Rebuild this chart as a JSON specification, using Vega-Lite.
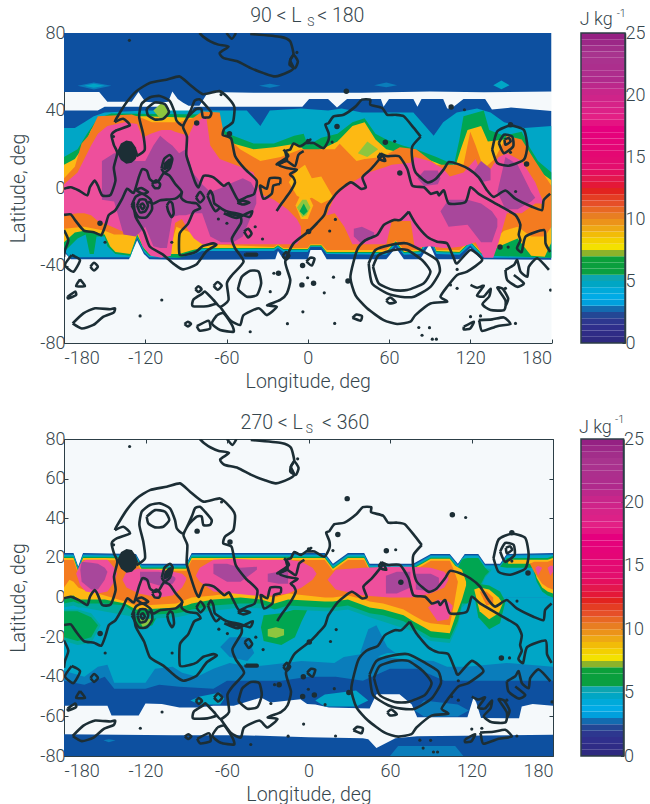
{"$schema":"https://vega.github.io/schema/vega-lite/v6.json","padding":{"left":8,"top":5,"right":0,"bottom":0},"background":"white",
"config":{"font":"Roboto","view":{"stroke":null},"axis":{"grid":false,"labelFontSize":18,"labelFontWeight":300,"labelColor":"#36464d","titleFontSize":19.5,"titleFontWeight":300,"titleColor":"#36464d","domainColor":"#2c3e46","tickColor":"#2c3e46","tickSize":-4,"labelPadding":3,"zindex":1}},
"datasets":{
"f1":[
{"s":"u","v":1,"x":-180,"lo":49.5,"hi":80},{"s":"u","v":1,"x":-154,"lo":49.5,"hi":80},{"s":"u","v":1,"x":-148,"lo":44.5,"hi":80},{"s":"u","v":1,"x":-130,"lo":44.5,"hi":80},{"s":"u","v":1,"x":-125,"lo":49.5,"hi":80},{"s":"u","v":1,"x":-120,"lo":44.5,"hi":80},{"s":"u","v":1,"x":-110,"lo":44,"hi":80},{"s":"u","v":1,"x":-103,"lo":44.5,"hi":80},{"s":"u","v":1,"x":-100,"lo":49.8,"hi":80},{"s":"u","v":1,"x":-96,"lo":46,"hi":80},{"s":"u","v":1,"x":-92,"lo":44,"hi":80},{"s":"u","v":1,"x":-88,"lo":42.5,"hi":80},{"s":"u","v":1,"x":-80,"lo":42.5,"hi":80},{"s":"u","v":1,"x":-75,"lo":48,"hi":80},{"s":"u","v":1,"x":-72,"lo":49.5,"hi":80},{"s":"u","v":1,"x":-40,"lo":49.2,"hi":80},{"s":"u","v":1,"x":0,"lo":49.2,"hi":80},{"s":"u","v":1,"x":40,"lo":49.2,"hi":80},{"s":"u","v":1,"x":90,"lo":49.8,"hi":80},{"s":"u","v":1,"x":130,"lo":49.4,"hi":80},{"s":"u","v":1,"x":180,"lo":49.8,"hi":80},
{"s":"b1","v":2,"x":-170,"lo":52.8,"hi":52.8},{"s":"b1","v":2,"x":-158,"lo":50.8,"hi":54.5},{"s":"b1","v":2,"x":-145,"lo":52.8,"hi":52.8},
{"s":"b2","v":3,"x":-165,"lo":52.8,"hi":52.8},{"s":"b2","v":3,"x":-158,"lo":51.8,"hi":53.8},{"s":"b2","v":3,"x":-150,"lo":52.8,"hi":52.8},
{"s":"b3","v":2,"x":-36,"lo":52.8,"hi":52.8},{"s":"b3","v":2,"x":-28,"lo":51.8,"hi":53.8},{"s":"b3","v":2,"x":-20,"lo":52.8,"hi":52.8},
{"s":"b4","v":2,"x":49,"lo":53,"hi":53},{"s":"b4","v":2,"x":58,"lo":52,"hi":54.5},{"s":"b4","v":2,"x":66,"lo":53,"hi":53},
{"s":"b5","v":3,"x":137,"lo":53,"hi":53},{"s":"b5","v":3,"x":143,"lo":51,"hi":55.5},{"s":"b5","v":3,"x":149,"lo":53,"hi":53},
{"s":"a1","v":1,"x":-180,"lo":0,"hi":40},{"s":"a1","v":1,"x":-155,"lo":0,"hi":40},{"s":"a1","v":1,"x":-150,"lo":0,"hi":42},{"s":"a1","v":1,"x":-105,"lo":0,"hi":42},{"s":"a1","v":1,"x":-100,"lo":0,"hi":37.5},{"s":"a1","v":1,"x":-88,"lo":0,"hi":37.5},{"s":"a1","v":1,"x":-84,"lo":0,"hi":42},{"s":"a1","v":1,"x":-4,"lo":0,"hi":42},{"s":"a1","v":1,"x":1,"lo":0,"hi":46},{"s":"a1","v":1,"x":15,"lo":0,"hi":46},{"s":"a1","v":1,"x":21.6,"lo":0,"hi":41.5},{"s":"a1","v":1,"x":29,"lo":0,"hi":46},{"s":"a1","v":1,"x":54,"lo":0,"hi":46},{"s":"a1","v":1,"x":56,"lo":0,"hi":42},{"s":"a1","v":1,"x":60,"lo":0,"hi":46},{"s":"a1","v":1,"x":78,"lo":0,"hi":46},{"s":"a1","v":1,"x":81,"lo":0,"hi":42},{"s":"a1","v":1,"x":84,"lo":0,"hi":46},{"s":"a1","v":1,"x":100,"lo":0,"hi":46},{"s":"a1","v":1,"x":103,"lo":0,"hi":41},{"s":"a1","v":1,"x":106,"lo":0,"hi":41},{"s":"a1","v":1,"x":115,"lo":0,"hi":46},{"s":"a1","v":1,"x":131,"lo":0,"hi":46},{"s":"a1","v":1,"x":136,"lo":0,"hi":40.5},{"s":"a1","v":1,"x":150,"lo":0,"hi":41.5},{"s":"a1","v":1,"x":180,"lo":0,"hi":39.7},
{"s":"a2","v":1,"x":-180,"lo":-33,"hi":0},{"s":"a2","v":1,"x":-175,"lo":-36.8,"hi":0},{"s":"a2","v":1,"x":-132,"lo":-36.8,"hi":0},{"s":"a2","v":1,"x":-126,"lo":-27,"hi":0},{"s":"a2","v":1,"x":-121,"lo":-34,"hi":0},{"s":"a2","v":1,"x":-117,"lo":-36.8,"hi":0},{"s":"a2","v":1,"x":-97,"lo":-37,"hi":0},{"s":"a2","v":1,"x":-24,"lo":-36.8,"hi":0},{"s":"a2","v":1,"x":-22,"lo":-32.5,"hi":0},{"s":"a2","v":1,"x":-18,"lo":-36.8,"hi":0},{"s":"a2","v":1,"x":0,"lo":-36.8,"hi":0},{"s":"a2","v":1,"x":2,"lo":-32,"hi":0},{"s":"a2","v":1,"x":10,"lo":-32,"hi":0},{"s":"a2","v":1,"x":14,"lo":-36.8,"hi":0},{"s":"a2","v":1,"x":58,"lo":-36.8,"hi":0},{"s":"a2","v":1,"x":65,"lo":-30.8,"hi":0},{"s":"a2","v":1,"x":71,"lo":-36.8,"hi":0},{"s":"a2","v":1,"x":83,"lo":-36.8,"hi":0},{"s":"a2","v":1,"x":90,"lo":-29,"hi":0},{"s":"a2","v":1,"x":95,"lo":-36.8,"hi":0},{"s":"a2","v":1,"x":112,"lo":-36.8,"hi":0},{"s":"a2","v":1,"x":120,"lo":-31,"hi":0},{"s":"a2","v":1,"x":128,"lo":-36.8,"hi":0},{"s":"a2","v":1,"x":180,"lo":-37,"hi":0},
{"s":"c1","v":3,"x":-180,"lo":0,"hi":31},{"s":"c1","v":3,"x":-172,"lo":0,"hi":31},{"s":"c1","v":3,"x":-165,"lo":0,"hi":34},{"s":"c1","v":3,"x":-158,"lo":0,"hi":37},{"s":"c1","v":3,"x":-150,"lo":0,"hi":39},{"s":"c1","v":3,"x":-120,"lo":0,"hi":40},{"s":"c1","v":3,"x":-70,"lo":0,"hi":40},{"s":"c1","v":3,"x":-45,"lo":0,"hi":40},{"s":"c1","v":3,"x":-35,"lo":0,"hi":32},{"s":"c1","v":3,"x":-28,"lo":0,"hi":40},{"s":"c1","v":3,"x":-5,"lo":0,"hi":41},{"s":"c1","v":3,"x":15,"lo":0,"hi":40},{"s":"c1","v":3,"x":25,"lo":0,"hi":41},{"s":"c1","v":3,"x":40,"lo":0,"hi":39},{"s":"c1","v":3,"x":78,"lo":0,"hi":39},{"s":"c1","v":3,"x":83,"lo":0,"hi":35},{"s":"c1","v":3,"x":93,"lo":0,"hi":27},{"s":"c1","v":3,"x":100,"lo":0,"hi":34},{"s":"c1","v":3,"x":110,"lo":0,"hi":39},{"s":"c1","v":3,"x":125,"lo":0,"hi":41},{"s":"c1","v":3,"x":135,"lo":0,"hi":39},{"s":"c1","v":3,"x":145,"lo":0,"hi":34},{"s":"c1","v":3,"x":160,"lo":0,"hi":31},{"s":"c1","v":3,"x":180,"lo":0,"hi":32},
{"s":"c2","v":3,"x":-180,"lo":-32,"hi":0},{"s":"c2","v":3,"x":-176,"lo":-35.7,"hi":0},{"s":"c2","v":3,"x":-131,"lo":-35.7,"hi":0},{"s":"c2","v":3,"x":-126,"lo":-25.5,"hi":0},{"s":"c2","v":3,"x":-121,"lo":-33,"hi":0},{"s":"c2","v":3,"x":-117,"lo":-35.8,"hi":0},{"s":"c2","v":3,"x":-97,"lo":-36,"hi":0},{"s":"c2","v":3,"x":-85,"lo":-34.5,"hi":0},{"s":"c2","v":3,"x":-78,"lo":-32.5,"hi":0},{"s":"c2","v":3,"x":-25,"lo":-32.5,"hi":0},{"s":"c2","v":3,"x":-22,"lo":-31,"hi":0},{"s":"c2","v":3,"x":-18,"lo":-33,"hi":0},{"s":"c2","v":3,"x":0,"lo":-33,"hi":0},{"s":"c2","v":3,"x":2,"lo":-30.5,"hi":0},{"s":"c2","v":3,"x":10,"lo":-30.5,"hi":0},{"s":"c2","v":3,"x":14,"lo":-34,"hi":0},{"s":"c2","v":3,"x":58,"lo":-34.5,"hi":0},{"s":"c2","v":3,"x":65,"lo":-29,"hi":0},{"s":"c2","v":3,"x":71,"lo":-34.5,"hi":0},{"s":"c2","v":3,"x":83,"lo":-34,"hi":0},{"s":"c2","v":3,"x":90,"lo":-27,"hi":0},{"s":"c2","v":3,"x":95,"lo":-34,"hi":0},{"s":"c2","v":3,"x":112,"lo":-34.5,"hi":0},{"s":"c2","v":3,"x":120,"lo":-29.5,"hi":0},{"s":"c2","v":3,"x":128,"lo":-35.3,"hi":0},{"s":"c2","v":3,"x":135,"lo":-36,"hi":0},{"s":"c2","v":3,"x":180,"lo":-36,"hi":0},
{"s":"g1","v":5,"x":-180,"lo":0,"hi":16},{"s":"g1","v":5,"x":-170,"lo":0,"hi":20},{"s":"g1","v":5,"x":-163,"lo":0,"hi":28},{"s":"g1","v":5,"x":-155,"lo":0,"hi":36},{"s":"g1","v":5,"x":-145,"lo":0,"hi":38.5},{"s":"g1","v":5,"x":-75,"lo":0,"hi":38},{"s":"g1","v":5,"x":-68,"lo":0,"hi":32},{"s":"g1","v":5,"x":-55,"lo":0,"hi":27},{"s":"g1","v":5,"x":-40,"lo":0,"hi":23},{"s":"g1","v":5,"x":-25,"lo":0,"hi":23},{"s":"g1","v":5,"x":-10,"lo":0,"hi":27},{"s":"g1","v":5,"x":-3,"lo":0,"hi":28},{"s":"g1","v":5,"x":0,"lo":0,"hi":22},{"s":"g1","v":5,"x":10,"lo":0,"hi":26},{"s":"g1","v":5,"x":22,"lo":0,"hi":28},{"s":"g1","v":5,"x":33,"lo":0,"hi":34},{"s":"g1","v":5,"x":42,"lo":0,"hi":36},{"s":"g1","v":5,"x":50,"lo":0,"hi":28},{"s":"g1","v":5,"x":58,"lo":0,"hi":25},{"s":"g1","v":5,"x":70,"lo":0,"hi":22},{"s":"g1","v":5,"x":80,"lo":0,"hi":20},{"s":"g1","v":5,"x":95,"lo":0,"hi":16},{"s":"g1","v":5,"x":108,"lo":0,"hi":12},{"s":"g1","v":5,"x":112,"lo":0,"hi":25},{"s":"g1","v":5,"x":115,"lo":0,"hi":37},{"s":"g1","v":5,"x":130,"lo":0,"hi":40},{"s":"g1","v":5,"x":134,"lo":0,"hi":30},{"s":"g1","v":5,"x":145,"lo":0,"hi":27},{"s":"g1","v":5,"x":158,"lo":0,"hi":29},{"s":"g1","v":5,"x":163,"lo":0,"hi":22},{"s":"g1","v":5,"x":170,"lo":0,"hi":14},{"s":"g1","v":5,"x":180,"lo":0,"hi":8},
{"s":"g2","v":5,"x":-180,"lo":-33,"hi":0},{"s":"g2","v":5,"x":-170,"lo":-26,"hi":0},{"s":"g2","v":5,"x":-164,"lo":-24,"hi":0},{"s":"g2","v":5,"x":-161,"lo":-34,"hi":0},{"s":"g2","v":5,"x":-158,"lo":-34,"hi":0},{"s":"g2","v":5,"x":-156,"lo":-25,"hi":0},{"s":"g2","v":5,"x":-150,"lo":-25,"hi":0},{"s":"g2","v":5,"x":-148,"lo":-30,"hi":0},{"s":"g2","v":5,"x":-142,"lo":-34,"hi":0},{"s":"g2","v":5,"x":-131,"lo":-35,"hi":0},{"s":"g2","v":5,"x":-126,"lo":-25,"hi":0},{"s":"g2","v":5,"x":-121,"lo":-32,"hi":0},{"s":"g2","v":5,"x":-117,"lo":-35,"hi":0},{"s":"g2","v":5,"x":-95,"lo":-36,"hi":0},{"s":"g2","v":5,"x":-85,"lo":-34,"hi":0},{"s":"g2","v":5,"x":-78,"lo":-31.5,"hi":0},{"s":"g2","v":5,"x":-25,"lo":-31.5,"hi":0},{"s":"g2","v":5,"x":-22,"lo":-30,"hi":0},{"s":"g2","v":5,"x":-18,"lo":-32,"hi":0},{"s":"g2","v":5,"x":0,"lo":-32,"hi":0},{"s":"g2","v":5,"x":2,"lo":-30,"hi":0},{"s":"g2","v":5,"x":10,"lo":-30,"hi":0},{"s":"g2","v":5,"x":14,"lo":-33.5,"hi":0},{"s":"g2","v":5,"x":58,"lo":-33.5,"hi":0},{"s":"g2","v":5,"x":65,"lo":-28,"hi":0},{"s":"g2","v":5,"x":71,"lo":-33.5,"hi":0},{"s":"g2","v":5,"x":83,"lo":-33,"hi":0},{"s":"g2","v":5,"x":90,"lo":-25,"hi":0},{"s":"g2","v":5,"x":95,"lo":-33,"hi":0},{"s":"g2","v":5,"x":112,"lo":-33.5,"hi":0},{"s":"g2","v":5,"x":120,"lo":-28,"hi":0},{"s":"g2","v":5,"x":128,"lo":-34,"hi":0},{"s":"g2","v":5,"x":135,"lo":-35,"hi":0},{"s":"g2","v":5,"x":180,"lo":-36,"hi":0},
{"s":"y1","v":7,"x":-180,"lo":0,"hi":12},{"s":"y1","v":7,"x":-172,"lo":0,"hi":15},{"s":"y1","v":7,"x":-165,"lo":0,"hi":22},{"s":"y1","v":7,"x":-160,"lo":0,"hi":30},{"s":"y1","v":7,"x":-152,"lo":0,"hi":37},{"s":"y1","v":7,"x":-120,"lo":0,"hi":37},{"s":"y1","v":7,"x":-75,"lo":0,"hi":36},{"s":"y1","v":7,"x":-68,"lo":0,"hi":28},{"s":"y1","v":7,"x":-55,"lo":0,"hi":23},{"s":"y1","v":7,"x":-40,"lo":0,"hi":20},{"s":"y1","v":7,"x":-25,"lo":0,"hi":21},{"s":"y1","v":7,"x":-8,"lo":0,"hi":23},{"s":"y1","v":7,"x":0,"lo":0,"hi":18},{"s":"y1","v":7,"x":10,"lo":0,"hi":20},{"s":"y1","v":7,"x":22,"lo":0,"hi":24},{"s":"y1","v":7,"x":33,"lo":0,"hi":32},{"s":"y1","v":7,"x":42,"lo":0,"hi":34},{"s":"y1","v":7,"x":50,"lo":0,"hi":25},{"s":"y1","v":7,"x":58,"lo":0,"hi":20},{"s":"y1","v":7,"x":70,"lo":0,"hi":18},{"s":"y1","v":7,"x":80,"lo":0,"hi":17},{"s":"y1","v":7,"x":95,"lo":0,"hi":13},{"s":"y1","v":7,"x":108,"lo":0,"hi":9},{"s":"y1","v":7,"x":113,"lo":0,"hi":20},{"s":"y1","v":7,"x":118,"lo":0,"hi":30},{"s":"y1","v":7,"x":128,"lo":0,"hi":32},{"s":"y1","v":7,"x":133,"lo":0,"hi":24},{"s":"y1","v":7,"x":145,"lo":0,"hi":25},{"s":"y1","v":7,"x":158,"lo":0,"hi":22},{"s":"y1","v":7,"x":165,"lo":0,"hi":14},{"s":"y1","v":7,"x":172,"lo":0,"hi":8},{"s":"y1","v":7,"x":180,"lo":0,"hi":4},
{"s":"y2","v":7,"x":-180,"lo":-28,"hi":0},{"s":"y2","v":7,"x":-172,"lo":-23,"hi":0},{"s":"y2","v":7,"x":-165,"lo":-22,"hi":0},{"s":"y2","v":7,"x":-150,"lo":-24,"hi":0},{"s":"y2","v":7,"x":-146,"lo":-30,"hi":0},{"s":"y2","v":7,"x":-142,"lo":-33,"hi":0},{"s":"y2","v":7,"x":-131,"lo":-34,"hi":0},{"s":"y2","v":7,"x":-126,"lo":-24,"hi":0},{"s":"y2","v":7,"x":-121,"lo":-31,"hi":0},{"s":"y2","v":7,"x":-117,"lo":-34,"hi":0},{"s":"y2","v":7,"x":-95,"lo":-34,"hi":0},{"s":"y2","v":7,"x":-85,"lo":-32,"hi":0},{"s":"y2","v":7,"x":-78,"lo":-31,"hi":0},{"s":"y2","v":7,"x":-25,"lo":-31,"hi":0},{"s":"y2","v":7,"x":-22,"lo":-29.5,"hi":0},{"s":"y2","v":7,"x":-18,"lo":-31.5,"hi":0},{"s":"y2","v":7,"x":0,"lo":-31.5,"hi":0},{"s":"y2","v":7,"x":2,"lo":-29.5,"hi":0},{"s":"y2","v":7,"x":10,"lo":-29.5,"hi":0},{"s":"y2","v":7,"x":14,"lo":-33,"hi":0},{"s":"y2","v":7,"x":58,"lo":-33,"hi":0},{"s":"y2","v":7,"x":65,"lo":-27.5,"hi":0},{"s":"y2","v":7,"x":71,"lo":-33,"hi":0},{"s":"y2","v":7,"x":83,"lo":-32.5,"hi":0},{"s":"y2","v":7,"x":90,"lo":-24,"hi":0},{"s":"y2","v":7,"x":95,"lo":-32.5,"hi":0},{"s":"y2","v":7,"x":112,"lo":-33,"hi":0},{"s":"y2","v":7,"x":120,"lo":-27.5,"hi":0},{"s":"y2","v":7,"x":128,"lo":-33.5,"hi":0},{"s":"y2","v":7,"x":136,"lo":-32,"hi":0},{"s":"y2","v":7,"x":145,"lo":-29,"hi":0},{"s":"y2","v":7,"x":155,"lo":-26,"hi":0},{"s":"y2","v":7,"x":165,"lo":-35,"hi":0},{"s":"y2","v":7,"x":175,"lo":-35.5,"hi":0},{"s":"y2","v":7,"x":180,"lo":-28,"hi":0},
{"s":"o1","v":8,"x":-180,"lo":0,"hi":5},{"s":"o1","v":8,"x":-172,"lo":0,"hi":11},{"s":"o1","v":8,"x":-167,"lo":0,"hi":23},{"s":"o1","v":8,"x":-162,"lo":0,"hi":27},{"s":"o1","v":8,"x":-155,"lo":0,"hi":37},{"s":"o1","v":8,"x":-130,"lo":0,"hi":38},{"s":"o1","v":8,"x":-122,"lo":0,"hi":36},{"s":"o1","v":8,"x":-115,"lo":0,"hi":34},{"s":"o1","v":8,"x":-95,"lo":0,"hi":34},{"s":"o1","v":8,"x":-85,"lo":0,"hi":36},{"s":"o1","v":8,"x":-78,"lo":0,"hi":39.5},{"s":"o1","v":8,"x":-65,"lo":0,"hi":39},{"s":"o1","v":8,"x":-62,"lo":0,"hi":28},{"s":"o1","v":8,"x":-50,"lo":0,"hi":20},{"s":"o1","v":8,"x":-35,"lo":0,"hi":14},{"s":"o1","v":8,"x":-20,"lo":0,"hi":16},{"s":"o1","v":8,"x":-5,"lo":0,"hi":20},{"s":"o1","v":8,"x":20,"lo":0,"hi":20},{"s":"o1","v":8,"x":25,"lo":0,"hi":24},{"s":"o1","v":8,"x":35,"lo":0,"hi":23},{"s":"o1","v":8,"x":42,"lo":0,"hi":15},{"s":"o1","v":8,"x":55,"lo":0,"hi":16},{"s":"o1","v":8,"x":68,"lo":0,"hi":21},{"s":"o1","v":8,"x":80,"lo":0,"hi":20},{"s":"o1","v":8,"x":95,"lo":0,"hi":12},{"s":"o1","v":8,"x":115,"lo":0,"hi":12},{"s":"o1","v":8,"x":120,"lo":0,"hi":29},{"s":"o1","v":8,"x":124,"lo":0,"hi":22},{"s":"o1","v":8,"x":130,"lo":0,"hi":10},{"s":"o1","v":8,"x":138,"lo":0,"hi":15},{"s":"o1","v":8,"x":147,"lo":0,"hi":27},{"s":"o1","v":8,"x":158,"lo":0,"hi":25},{"s":"o1","v":8,"x":167,"lo":0,"hi":15},{"s":"o1","v":8,"x":180,"lo":0,"hi":1},
{"s":"o2","v":8,"x":-180,"lo":-21,"hi":0},{"s":"o2","v":8,"x":-165,"lo":-20,"hi":0},{"s":"o2","v":8,"x":-150,"lo":-22,"hi":0},{"s":"o2","v":8,"x":-143,"lo":-24,"hi":0},{"s":"o2","v":8,"x":-133,"lo":-24,"hi":0},{"s":"o2","v":8,"x":-126,"lo":-22,"hi":0},{"s":"o2","v":8,"x":-121,"lo":-30,"hi":0},{"s":"o2","v":8,"x":-117,"lo":-33,"hi":0},{"s":"o2","v":8,"x":-103,"lo":-34,"hi":0},{"s":"o2","v":8,"x":-97,"lo":-20,"hi":0},{"s":"o2","v":8,"x":-90,"lo":-22,"hi":0},{"s":"o2","v":8,"x":-82,"lo":-24,"hi":0},{"s":"o2","v":8,"x":-76,"lo":-29,"hi":0},{"s":"o2","v":8,"x":-25,"lo":-30.5,"hi":0},{"s":"o2","v":8,"x":-22,"lo":-29,"hi":0},{"s":"o2","v":8,"x":-18,"lo":-31,"hi":0},{"s":"o2","v":8,"x":0,"lo":-31,"hi":0},{"s":"o2","v":8,"x":2,"lo":-29,"hi":0},{"s":"o2","v":8,"x":10,"lo":-29,"hi":0},{"s":"o2","v":8,"x":14,"lo":-32,"hi":0},{"s":"o2","v":8,"x":58,"lo":-32,"hi":0},{"s":"o2","v":8,"x":65,"lo":-27,"hi":0},{"s":"o2","v":8,"x":71,"lo":-32,"hi":0},{"s":"o2","v":8,"x":83,"lo":-32,"hi":0},{"s":"o2","v":8,"x":90,"lo":-23,"hi":0},{"s":"o2","v":8,"x":95,"lo":-32,"hi":0},{"s":"o2","v":8,"x":112,"lo":-32,"hi":0},{"s":"o2","v":8,"x":120,"lo":-27,"hi":0},{"s":"o2","v":8,"x":128,"lo":-33,"hi":0},{"s":"o2","v":8,"x":135,"lo":-28,"hi":0},{"s":"o2","v":8,"x":145,"lo":-22,"hi":0},{"s":"o2","v":8,"x":155,"lo":-20,"hi":0},{"s":"o2","v":8,"x":165,"lo":-25,"hi":0},{"s":"o2","v":8,"x":175,"lo":-25,"hi":0},{"s":"o2","v":8,"x":180,"lo":-20,"hi":0},
{"s":"ye1","v":7,"x":-14,"lo":3,"hi":3},{"s":"ye1","v":7,"x":-8,"lo":-4,"hi":9},{"s":"ye1","v":7,"x":-2,"lo":-6,"hi":12},{"s":"ye1","v":7,"x":3,"lo":-5,"hi":5},{"s":"ye1","v":7,"x":10,"lo":-8,"hi":6},{"s":"ye1","v":7,"x":19,"lo":-5,"hi":-5},
{"s":"ye2","v":7,"x":-9,"lo":-9,"hi":-9},{"s":"ye2","v":7,"x":-5,"lo":-16,"hi":-3},{"s":"ye2","v":7,"x":0,"lo":-16,"hi":-3},{"s":"ye2","v":7,"x":4,"lo":-9,"hi":-9},
{"s":"lg1","v":6,"x":-8,"lo":-10,"hi":-10},{"s":"lg1","v":6,"x":-4,"lo":-15,"hi":-6},{"s":"lg1","v":6,"x":-1,"lo":-14,"hi":-6},{"s":"lg1","v":6,"x":2,"lo":-10,"hi":-10},
{"s":"gr1","v":5,"x":-6,"lo":-12,"hi":-12},{"s":"gr1","v":5,"x":-3,"lo":-14,"hi":-8},{"s":"gr1","v":5,"x":0,"lo":-12,"hi":-12},
{"s":"ye3","v":7,"x":22,"lo":24,"hi":24},{"s":"ye3","v":7,"x":36,"lo":14,"hi":32},{"s":"ye3","v":7,"x":42,"lo":15,"hi":33},{"s":"ye3","v":7,"x":50,"lo":17,"hi":24},
{"s":"lg2","v":6,"x":37,"lo":18,"hi":18},{"s":"lg2","v":6,"x":44,"lo":16,"hi":24},{"s":"lg2","v":6,"x":52,"lo":20,"hi":20},
{"s":"lg3","v":6,"x":-114,"lo":40,"hi":40},{"s":"lg3","v":6,"x":-108,"lo":35,"hi":44},{"s":"lg3","v":6,"x":-102,"lo":40,"hi":40},
{"s":"p1","v":9,"x":-180,"lo":-14,"hi":2},{"s":"p1","v":9,"x":-170,"lo":-13,"hi":8},{"s":"p1","v":9,"x":-165,"lo":-13,"hi":15},{"s":"p1","v":9,"x":-160,"lo":-14,"hi":22},{"s":"p1","v":9,"x":-155,"lo":-17,"hi":28},{"s":"p1","v":9,"x":-148,"lo":-19,"hi":32},{"s":"p1","v":9,"x":-135,"lo":-23,"hi":34},{"s":"p1","v":9,"x":-126,"lo":-22,"hi":33},{"s":"p1","v":9,"x":-122,"lo":-30,"hi":26},{"s":"p1","v":9,"x":-116,"lo":-35,"hi":28},{"s":"p1","v":9,"x":-108,"lo":-36,"hi":30},{"s":"p1","v":9,"x":-101,"lo":-35,"hi":30},{"s":"p1","v":9,"x":-98,"lo":-18,"hi":29},{"s":"p1","v":9,"x":-93,"lo":-16,"hi":28},{"s":"p1","v":9,"x":-88,"lo":-22,"hi":27},{"s":"p1","v":9,"x":-84,"lo":-26,"hi":33},{"s":"p1","v":9,"x":-78,"lo":-29,"hi":36},{"s":"p1","v":9,"x":-75,"lo":-29,"hi":37},{"s":"p1","v":9,"x":-72,"lo":-29,"hi":22},{"s":"p1","v":9,"x":-65,"lo":-29,"hi":15},{"s":"p1","v":9,"x":-50,"lo":-29,"hi":11},{"s":"p1","v":9,"x":-40,"lo":-29,"hi":8},{"s":"p1","v":9,"x":-35,"lo":-29,"hi":-3},{"s":"p1","v":9,"x":-25,"lo":-29,"hi":-6},{"s":"p1","v":9,"x":-15,"lo":-29,"hi":-11},{"s":"p1","v":9,"x":-8,"lo":-29,"hi":-16},{"s":"p1","v":9,"x":-5,"lo":-26,"hi":-20},
{"s":"p2","v":9,"x":14,"lo":-14,"hi":-14},{"s":"p2","v":9,"x":20,"lo":-13,"hi":-4},{"s":"p2","v":9,"x":27,"lo":-20,"hi":0},{"s":"p2","v":9,"x":33,"lo":-29,"hi":3},{"s":"p2","v":9,"x":45,"lo":-29,"hi":8},{"s":"p2","v":9,"x":58,"lo":-29,"hi":11},{"s":"p2","v":9,"x":62,"lo":-17,"hi":12},{"s":"p2","v":9,"x":76,"lo":-17,"hi":13},{"s":"p2","v":9,"x":79,"lo":-31,"hi":16},{"s":"p2","v":9,"x":90,"lo":-30,"hi":14},{"s":"p2","v":9,"x":100,"lo":-31,"hi":10},{"s":"p2","v":9,"x":105,"lo":-31,"hi":6},{"s":"p2","v":9,"x":115,"lo":-30,"hi":8},{"s":"p2","v":9,"x":124,"lo":-28,"hi":15},{"s":"p2","v":9,"x":130,"lo":-36,"hi":4},{"s":"p2","v":9,"x":137,"lo":-36,"hi":12},{"s":"p2","v":9,"x":141,"lo":-28,"hi":16},{"s":"p2","v":9,"x":147,"lo":-13,"hi":18},{"s":"p2","v":9,"x":158,"lo":-13,"hi":14},{"s":"p2","v":9,"x":168,"lo":-8,"hi":3},{"s":"p2","v":9,"x":172,"lo":-8,"hi":-4},{"s":"p2","v":9,"x":175,"lo":-9,"hi":-9},
{"s":"q1","v":10,"x":-152,"lo":-6,"hi":14},{"s":"q1","v":10,"x":-143,"lo":-7,"hi":18},{"s":"q1","v":10,"x":-136,"lo":-24,"hi":18},{"s":"q1","v":10,"x":-127,"lo":-25,"hi":14},{"s":"q1","v":10,"x":-120,"lo":-20,"hi":14},{"s":"q1","v":10,"x":-114,"lo":-30,"hi":22},{"s":"q1","v":10,"x":-109,"lo":-31,"hi":27},{"s":"q1","v":10,"x":-104,"lo":-31,"hi":24},{"s":"q1","v":10,"x":-100,"lo":-15,"hi":22},{"s":"q1","v":10,"x":-95,"lo":-14,"hi":18},{"s":"q1","v":10,"x":-90,"lo":-14,"hi":20},{"s":"q1","v":10,"x":-85,"lo":-13,"hi":8},{"s":"q1","v":10,"x":-78,"lo":-13,"hi":2},{"s":"q1","v":10,"x":-72,"lo":-25,"hi":-2},{"s":"q1","v":10,"x":-64,"lo":-28,"hi":0},{"s":"q1","v":10,"x":-55,"lo":-28,"hi":3},{"s":"q1","v":10,"x":-48,"lo":-25,"hi":5},{"s":"q1","v":10,"x":-42,"lo":-15,"hi":3},{"s":"q1","v":10,"x":-38,"lo":-8,"hi":-2},
{"s":"q2","v":10,"x":34,"lo":-25,"hi":-21},{"s":"q2","v":10,"x":40,"lo":-29,"hi":-20},{"s":"q2","v":10,"x":49,"lo":-25,"hi":-23},
{"s":"q3","v":10,"x":81,"lo":5,"hi":5},{"s":"q3","v":10,"x":86,"lo":1,"hi":9},{"s":"q3","v":10,"x":96,"lo":2,"hi":9},{"s":"q3","v":10,"x":98,"lo":5,"hi":5},
{"s":"q4","v":10,"x":98,"lo":-12,"hi":-12},{"s":"q4","v":10,"x":104,"lo":-20,"hi":-6},{"s":"q4","v":10,"x":118,"lo":-19,"hi":-6},{"s":"q4","v":10,"x":128,"lo":-28,"hi":-8},{"s":"q4","v":10,"x":136,"lo":-28,"hi":-12},{"s":"q4","v":10,"x":140,"lo":-20,"hi":-16},
{"s":"q5","v":10,"x":123,"lo":9,"hi":9},{"s":"q5","v":10,"x":128,"lo":3,"hi":14},{"s":"q5","v":10,"x":135,"lo":4,"hi":10},
{"s":"q6","v":10,"x":140,"lo":-2,"hi":-2},{"s":"q6","v":10,"x":146,"lo":-11,"hi":16},{"s":"q6","v":10,"x":155,"lo":-11,"hi":12},{"s":"q6","v":10,"x":165,"lo":-7,"hi":-2},{"s":"q6","v":10,"x":168,"lo":-5,"hi":-5}
],
"f2":[
{"s":"u","v":1,"x":-180,"lo":-80,"hi":-69},{"s":"u","v":1,"x":-100,"lo":-80,"hi":-69.5},{"s":"u","v":1,"x":-50,"lo":-80,"hi":-69.5},{"s":"u","v":1,"x":0,"lo":-80,"hi":-70.5},{"s":"u","v":1,"x":40,"lo":-80,"hi":-71},{"s":"u","v":1,"x":44,"lo":-80,"hi":-71.5},{"s":"u","v":1,"x":50,"lo":-80,"hi":-76},{"s":"u","v":1,"x":64,"lo":-80,"hi":-71},{"s":"u","v":1,"x":80,"lo":-80,"hi":-70},{"s":"u","v":1,"x":180,"lo":-80,"hi":-69.3},
{"s":"ub","v":2,"x":60,"lo":-80,"hi":-80},{"s":"ub","v":2,"x":66,"lo":-80,"hi":-75},{"s":"ub","v":2,"x":108,"lo":-80,"hi":-75},{"s":"ub","v":2,"x":114,"lo":-80,"hi":-80},
{"s":"ub2","v":2,"x":-151,"lo":-72,"hi":-72},{"s":"ub2","v":2,"x":-147,"lo":-73,"hi":-71.5},{"s":"ub2","v":2,"x":-142,"lo":-72,"hi":-72},
{"s":"a1","v":1,"x":-180,"lo":0,"hi":22.4},{"s":"a1","v":1,"x":-173,"lo":0,"hi":22.4},{"s":"a1","v":1,"x":-169.5,"lo":0,"hi":15.6},{"s":"a1","v":1,"x":-166,"lo":0,"hi":22.4},{"s":"a1","v":1,"x":-127,"lo":0,"hi":22},{"s":"a1","v":1,"x":-123,"lo":0,"hi":17},{"s":"a1","v":1,"x":-90,"lo":0,"hi":17},{"s":"a1","v":1,"x":-86,"lo":0,"hi":22.4},{"s":"a1","v":1,"x":12,"lo":0,"hi":22.4},{"s":"a1","v":1,"x":18,"lo":0,"hi":17},{"s":"a1","v":1,"x":29,"lo":0,"hi":22.4},{"s":"a1","v":1,"x":41,"lo":0,"hi":22.4},{"s":"a1","v":1,"x":45,"lo":0,"hi":17},{"s":"a1","v":1,"x":77,"lo":0,"hi":17},{"s":"a1","v":1,"x":90,"lo":0,"hi":22},{"s":"a1","v":1,"x":104,"lo":0,"hi":22},{"s":"a1","v":1,"x":110,"lo":0,"hi":17},{"s":"a1","v":1,"x":115,"lo":0,"hi":22},{"s":"a1","v":1,"x":125,"lo":0,"hi":22},{"s":"a1","v":1,"x":130,"lo":0,"hi":17},{"s":"a1","v":1,"x":141,"lo":0,"hi":17},{"s":"a1","v":1,"x":146,"lo":0,"hi":22},{"s":"a1","v":1,"x":180,"lo":0,"hi":22.4},
{"s":"a2","v":1,"x":-180,"lo":-54.7,"hi":0},{"s":"a2","v":1,"x":-148,"lo":-54.7,"hi":0},{"s":"a2","v":1,"x":-145,"lo":-59.5,"hi":0},{"s":"a2","v":1,"x":-125,"lo":-59.5,"hi":0},{"s":"a2","v":1,"x":-120,"lo":-53.5,"hi":0},{"s":"a2","v":1,"x":-108,"lo":-53.8,"hi":0},{"s":"a2","v":1,"x":-95,"lo":-55.5,"hi":0},{"s":"a2","v":1,"x":-82,"lo":-55.5,"hi":0},{"s":"a2","v":1,"x":-70,"lo":-54.7,"hi":0},{"s":"a2","v":1,"x":-55,"lo":-54.7,"hi":0},{"s":"a2","v":1,"x":-35,"lo":-50.5,"hi":0},{"s":"a2","v":1,"x":-28,"lo":-53,"hi":0},{"s":"a2","v":1,"x":-6,"lo":-51.3,"hi":0},{"s":"a2","v":1,"x":-1,"lo":-53.8,"hi":0},{"s":"a2","v":1,"x":5,"lo":-54,"hi":0},{"s":"a2","v":1,"x":15,"lo":-55.5,"hi":0},{"s":"a2","v":1,"x":45,"lo":-56,"hi":0},{"s":"a2","v":1,"x":50,"lo":-48.8,"hi":0},{"s":"a2","v":1,"x":67,"lo":-48.8,"hi":0},{"s":"a2","v":1,"x":76,"lo":-54,"hi":0},{"s":"a2","v":1,"x":80,"lo":-60.5,"hi":0},{"s":"a2","v":1,"x":117,"lo":-60.5,"hi":0},{"s":"a2","v":1,"x":121.5,"lo":-50.5,"hi":0},{"s":"a2","v":1,"x":123.5,"lo":-53,"hi":0},{"s":"a2","v":1,"x":127,"lo":-60.8,"hi":0},{"s":"a2","v":1,"x":155,"lo":-61,"hi":0},{"s":"a2","v":1,"x":157,"lo":-55,"hi":0},{"s":"a2","v":1,"x":165,"lo":-53.8,"hi":0},{"s":"a2","v":1,"x":180,"lo":-54.7,"hi":0},
{"s":"pb1","v":3,"x":-87,"lo":-52,"hi":-52},{"s":"pb1","v":3,"x":-80,"lo":-54,"hi":-50},{"s":"pb1","v":3,"x":-65,"lo":-54,"hi":-48},{"s":"pb1","v":3,"x":-62,"lo":-51,"hi":-51},
{"s":"pb2","v":3,"x":5,"lo":-52,"hi":-52},{"s":"pb2","v":3,"x":12,"lo":-55,"hi":-49},{"s":"pb2","v":3,"x":35,"lo":-55,"hi":-47},{"s":"pb2","v":3,"x":44,"lo":-52,"hi":-52},
{"s":"pb3","v":2,"x":78,"lo":-57,"hi":-57},{"s":"pb3","v":2,"x":85,"lo":-60,"hi":-52},{"s":"pb3","v":2,"x":110,"lo":-60,"hi":-54},{"s":"pb3","v":2,"x":118,"lo":-57,"hi":-57},
{"s":"m2","v":2,"x":-180,"lo":-42,"hi":0},{"s":"m2","v":2,"x":-165,"lo":-44,"hi":0},{"s":"m2","v":2,"x":-150,"lo":-40,"hi":0},{"s":"m2","v":2,"x":-143,"lo":-46,"hi":0},{"s":"m2","v":2,"x":-120,"lo":-46,"hi":0},{"s":"m2","v":2,"x":-110,"lo":-44,"hi":0},{"s":"m2","v":2,"x":-95,"lo":-45,"hi":0},{"s":"m2","v":2,"x":-70,"lo":-46,"hi":0},{"s":"m2","v":2,"x":-60,"lo":-42,"hi":0},{"s":"m2","v":2,"x":-20,"lo":-42,"hi":0},{"s":"m2","v":2,"x":0,"lo":-40,"hi":0},{"s":"m2","v":2,"x":20,"lo":-40,"hi":0},{"s":"m2","v":2,"x":40,"lo":-42,"hi":0},{"s":"m2","v":2,"x":60,"lo":-36,"hi":0},{"s":"m2","v":2,"x":80,"lo":-36,"hi":0},{"s":"m2","v":2,"x":100,"lo":-42,"hi":0},{"s":"m2","v":2,"x":180,"lo":-42,"hi":0},
{"s":"m1","v":2,"x":-180,"lo":0,"hi":21.8},{"s":"m1","v":2,"x":-173,"lo":0,"hi":21.8},{"s":"m1","v":2,"x":-169.5,"lo":0,"hi":15},{"s":"m1","v":2,"x":-166,"lo":0,"hi":21.8},{"s":"m1","v":2,"x":-127,"lo":0,"hi":21.4},{"s":"m1","v":2,"x":-123,"lo":0,"hi":16.4},{"s":"m1","v":2,"x":-90,"lo":0,"hi":16.4},{"s":"m1","v":2,"x":-86,"lo":0,"hi":21.8},{"s":"m1","v":2,"x":12,"lo":0,"hi":21.8},{"s":"m1","v":2,"x":18,"lo":0,"hi":16.4},{"s":"m1","v":2,"x":29,"lo":0,"hi":21.8},{"s":"m1","v":2,"x":41,"lo":0,"hi":21.8},{"s":"m1","v":2,"x":45,"lo":0,"hi":16.4},{"s":"m1","v":2,"x":77,"lo":0,"hi":16.4},{"s":"m1","v":2,"x":90,"lo":0,"hi":21.4},{"s":"m1","v":2,"x":104,"lo":0,"hi":21.4},{"s":"m1","v":2,"x":110,"lo":0,"hi":16.4},{"s":"m1","v":2,"x":115,"lo":0,"hi":21.4},{"s":"m1","v":2,"x":125,"lo":0,"hi":21.4},{"s":"m1","v":2,"x":130,"lo":0,"hi":16.4},{"s":"m1","v":2,"x":141,"lo":0,"hi":16.4},{"s":"m1","v":2,"x":146,"lo":0,"hi":21.4},{"s":"m1","v":2,"x":180,"lo":0,"hi":21.8},
{"s":"c2","v":3,"x":-180,"lo":-37,"hi":0},{"s":"c2","v":3,"x":-165,"lo":-40,"hi":0},{"s":"c2","v":3,"x":-155,"lo":-35,"hi":0},{"s":"c2","v":3,"x":-148,"lo":-34,"hi":0},{"s":"c2","v":3,"x":-143,"lo":-43,"hi":0},{"s":"c2","v":3,"x":-120,"lo":-43,"hi":0},{"s":"c2","v":3,"x":-113,"lo":-36,"hi":0},{"s":"c2","v":3,"x":-100,"lo":-35,"hi":0},{"s":"c2","v":3,"x":-93,"lo":-38,"hi":0},{"s":"c2","v":3,"x":-82,"lo":-40,"hi":0},{"s":"c2","v":3,"x":-70,"lo":-36,"hi":0},{"s":"c2","v":3,"x":-58,"lo":-33,"hi":0},{"s":"c2","v":3,"x":-43,"lo":-35,"hi":0},{"s":"c2","v":3,"x":-28,"lo":-34,"hi":0},{"s":"c2","v":3,"x":-5,"lo":-32,"hi":0},{"s":"c2","v":3,"x":19,"lo":-33,"hi":0},{"s":"c2","v":3,"x":26,"lo":-30,"hi":0},{"s":"c2","v":3,"x":44,"lo":-28,"hi":0},{"s":"c2","v":3,"x":53,"lo":-30,"hi":0},{"s":"c2","v":3,"x":70,"lo":-31,"hi":0},{"s":"c2","v":3,"x":92,"lo":-32,"hi":0},{"s":"c2","v":3,"x":102,"lo":-35,"hi":0},{"s":"c2","v":3,"x":116,"lo":-35,"hi":0},{"s":"c2","v":3,"x":146,"lo":-33,"hi":0},{"s":"c2","v":3,"x":180,"lo":-35,"hi":0},
{"s":"c1","v":3,"x":-180,"lo":0,"hi":21.4},{"s":"c1","v":3,"x":-173,"lo":0,"hi":21.4},{"s":"c1","v":3,"x":-169.5,"lo":0,"hi":14.6},{"s":"c1","v":3,"x":-166,"lo":0,"hi":21.4},{"s":"c1","v":3,"x":-127,"lo":0,"hi":21},{"s":"c1","v":3,"x":-123,"lo":0,"hi":16},{"s":"c1","v":3,"x":-90,"lo":0,"hi":16},{"s":"c1","v":3,"x":-86,"lo":0,"hi":21.4},{"s":"c1","v":3,"x":12,"lo":0,"hi":21.4},{"s":"c1","v":3,"x":18,"lo":0,"hi":16},{"s":"c1","v":3,"x":29,"lo":0,"hi":21.4},{"s":"c1","v":3,"x":41,"lo":0,"hi":21.4},{"s":"c1","v":3,"x":45,"lo":0,"hi":16},{"s":"c1","v":3,"x":77,"lo":0,"hi":16},{"s":"c1","v":3,"x":90,"lo":0,"hi":21},{"s":"c1","v":3,"x":104,"lo":0,"hi":21},{"s":"c1","v":3,"x":110,"lo":0,"hi":16},{"s":"c1","v":3,"x":115,"lo":0,"hi":21},{"s":"c1","v":3,"x":125,"lo":0,"hi":21},{"s":"c1","v":3,"x":130,"lo":0,"hi":16},{"s":"c1","v":3,"x":141,"lo":0,"hi":16},{"s":"c1","v":3,"x":146,"lo":0,"hi":21},{"s":"c1","v":3,"x":180,"lo":0,"hi":21.4},
{"s":"dm1","v":2,"x":-65,"lo":-25,"hi":-25},{"s":"dm1","v":2,"x":-58,"lo":-30,"hi":-20},{"s":"dm1","v":2,"x":-45,"lo":-32,"hi":-20},{"s":"dm1","v":2,"x":-40,"lo":-28,"hi":-28},
{"s":"dm2","v":2,"x":38,"lo":-28,"hi":-28},{"s":"dm2","v":2,"x":44,"lo":-30,"hi":-16},{"s":"dm2","v":2,"x":50,"lo":-30,"hi":-14},{"s":"dm2","v":2,"x":58,"lo":-28,"hi":-25},{"s":"dm2","v":2,"x":64,"lo":-28,"hi":-28},
{"s":"t1","v":4,"x":-180,"lo":-22,"hi":-6},{"s":"t1","v":4,"x":-170,"lo":-24,"hi":-6},{"s":"t1","v":4,"x":-160,"lo":-23,"hi":-8},{"s":"t1","v":4,"x":-153,"lo":-14,"hi":-14},
{"s":"g1","v":5,"x":-180,"lo":-20,"hi":-7},{"s":"g1","v":5,"x":-170,"lo":-22,"hi":-7},{"s":"g1","v":5,"x":-160,"lo":-20,"hi":-10},{"s":"g1","v":5,"x":-155,"lo":-14,"hi":-14},
{"s":"g3","v":5,"x":-35,"lo":-15,"hi":-15},{"s":"g3","v":5,"x":-33,"lo":-22,"hi":-9},{"s":"g3","v":5,"x":-20,"lo":-24,"hi":-8},{"s":"g3","v":5,"x":-10,"lo":-20,"hi":-6},{"s":"g3","v":5,"x":-5,"lo":-12,"hi":-6},{"s":"g3","v":5,"x":0,"lo":-5,"hi":-5},
{"s":"lg3","v":6,"x":-30,"lo":-19.5,"hi":-16},{"s":"lg3","v":6,"x":-24,"lo":-20.5,"hi":-15},{"s":"lg3","v":6,"x":-18,"lo":-19,"hi":-16},
{"s":"g4","v":5,"x":-130,"lo":-8,"hi":-8},{"s":"g4","v":5,"x":-124,"lo":-16,"hi":-5},{"s":"g4","v":5,"x":-115,"lo":-14,"hi":-5},{"s":"g4","v":5,"x":-110,"lo":-8,"hi":-8},
{"s":"lg4","v":6,"x":-127,"lo":-8,"hi":-8},{"s":"lg4","v":6,"x":-122,"lo":-15,"hi":-6},{"s":"lg4","v":6,"x":-117,"lo":-13,"hi":-7},{"s":"lg4","v":6,"x":-114,"lo":-8,"hi":-8},
{"s":"g5","v":4,"x":-180,"lo":-5,"hi":20.9},{"s":"g5","v":4,"x":-173,"lo":-4,"hi":20.9},{"s":"g5","v":4,"x":-169.5,"lo":-5,"hi":14},{"s":"g5","v":4,"x":-166,"lo":-5,"hi":20.9},{"s":"g5","v":4,"x":-127,"lo":-10,"hi":20.4},{"s":"g5","v":4,"x":-123,"lo":-11,"hi":15.5},{"s":"g5","v":4,"x":-97,"lo":-10,"hi":15.5},{"s":"g5","v":4,"x":-90,"lo":-9,"hi":15.5},{"s":"g5","v":4,"x":-86,"lo":-8,"hi":20.9},{"s":"g5","v":4,"x":-50,"lo":-5,"hi":20.9},{"s":"g5","v":4,"x":12,"lo":-7,"hi":20.9},{"s":"g5","v":4,"x":18,"lo":-7,"hi":15.5},{"s":"g5","v":4,"x":29,"lo":-6,"hi":20.9},{"s":"g5","v":4,"x":41,"lo":-9,"hi":20.9},{"s":"g5","v":4,"x":45,"lo":-10,"hi":15.5},{"s":"g5","v":4,"x":77,"lo":-17,"hi":15.5},{"s":"g5","v":4,"x":90,"lo":-22,"hi":20.5},{"s":"g5","v":4,"x":104,"lo":-23,"hi":20.5},{"s":"g5","v":4,"x":110,"lo":-14,"hi":15.5},{"s":"g5","v":4,"x":113,"lo":-5,"hi":20},{"s":"g5","v":4,"x":125,"lo":2,"hi":20},{"s":"g5","v":4,"x":130,"lo":10,"hi":15},{"s":"g5","v":4,"x":135,"lo":14,"hi":14},
{"s":"gm","v":5,"x":-180,"lo":-3,"hi":20.4},{"s":"gm","v":5,"x":-173,"lo":-2,"hi":20.4},{"s":"gm","v":5,"x":-169.5,"lo":-3,"hi":13.6},{"s":"gm","v":5,"x":-166,"lo":-3,"hi":20.4},{"s":"gm","v":5,"x":-150,"lo":-3,"hi":20.4},{"s":"gm","v":5,"x":-135,"lo":-4,"hi":20.2},{"s":"gm","v":5,"x":-127,"lo":-8,"hi":20},{"s":"gm","v":5,"x":-123,"lo":-9,"hi":15},{"s":"gm","v":5,"x":-97,"lo":-8,"hi":15},{"s":"gm","v":5,"x":-90,"lo":-7,"hi":15},{"s":"gm","v":5,"x":-86,"lo":-6,"hi":20.4},{"s":"gm","v":5,"x":-70,"lo":-4,"hi":20.4},{"s":"gm","v":5,"x":-50,"lo":-3,"hi":20.4},{"s":"gm","v":5,"x":-35,"lo":-3,"hi":20.4},{"s":"gm","v":5,"x":-25,"lo":-6,"hi":20.4},{"s":"gm","v":5,"x":-15,"lo":-4,"hi":20.4},{"s":"gm","v":5,"x":12,"lo":-5,"hi":20.4},{"s":"gm","v":5,"x":18,"lo":-5,"hi":15},{"s":"gm","v":5,"x":29,"lo":-4,"hi":20.4},{"s":"gm","v":5,"x":41,"lo":-7,"hi":20.4},{"s":"gm","v":5,"x":45,"lo":-8,"hi":15},{"s":"gm","v":5,"x":55,"lo":-9,"hi":15},{"s":"gm","v":5,"x":70,"lo":-12,"hi":15},{"s":"gm","v":5,"x":77,"lo":-15,"hi":15},{"s":"gm","v":5,"x":85,"lo":-18,"hi":18},{"s":"gm","v":5,"x":90,"lo":-20,"hi":20},{"s":"gm","v":5,"x":104,"lo":-21,"hi":20},{"s":"gm","v":5,"x":110,"lo":-12,"hi":15},{"s":"gm","v":5,"x":113,"lo":-3,"hi":19},{"s":"gm","v":5,"x":117,"lo":-3,"hi":20},{"s":"gm","v":5,"x":125,"lo":4,"hi":20},{"s":"gm","v":5,"x":130,"lo":11,"hi":15},{"s":"gm","v":5,"x":133,"lo":13,"hi":13},
{"s":"ym","v":7,"x":-180,"lo":0,"hi":19.9},{"s":"ym","v":7,"x":-173,"lo":1,"hi":19.9},{"s":"ym","v":7,"x":-169.5,"lo":-1,"hi":13.1},{"s":"ym","v":7,"x":-166,"lo":-1,"hi":19.9},{"s":"ym","v":7,"x":-150,"lo":-1,"hi":19.9},{"s":"ym","v":7,"x":-135,"lo":-3,"hi":19.7},{"s":"ym","v":7,"x":-127,"lo":-6,"hi":19.5},{"s":"ym","v":7,"x":-123,"lo":-6,"hi":14.5},{"s":"ym","v":7,"x":-97,"lo":-5,"hi":14.5},{"s":"ym","v":7,"x":-90,"lo":-4,"hi":14.5},{"s":"ym","v":7,"x":-86,"lo":-3,"hi":19.9},{"s":"ym","v":7,"x":-70,"lo":-1,"hi":19.9},{"s":"ym","v":7,"x":-50,"lo":0,"hi":19.9},{"s":"ym","v":7,"x":-35,"lo":-1,"hi":19.9},{"s":"ym","v":7,"x":-25,"lo":-3,"hi":19.9},{"s":"ym","v":7,"x":-15,"lo":-1,"hi":19.9},{"s":"ym","v":7,"x":12,"lo":-2,"hi":19.9},{"s":"ym","v":7,"x":18,"lo":-2,"hi":14.5},{"s":"ym","v":7,"x":29,"lo":-1,"hi":19.9},{"s":"ym","v":7,"x":41,"lo":-4,"hi":19.9},{"s":"ym","v":7,"x":45,"lo":-5,"hi":14.5},{"s":"ym","v":7,"x":55,"lo":-6,"hi":14.5},{"s":"ym","v":7,"x":70,"lo":-9,"hi":14.5},{"s":"ym","v":7,"x":77,"lo":-12,"hi":14.5},{"s":"ym","v":7,"x":85,"lo":-15,"hi":17.5},{"s":"ym","v":7,"x":90,"lo":-17,"hi":19.5},{"s":"ym","v":7,"x":104,"lo":-18,"hi":19.5},{"s":"ym","v":7,"x":108,"lo":-10,"hi":16},{"s":"ym","v":7,"x":113,"lo":-1,"hi":14},{"s":"ym","v":7,"x":116,"lo":6,"hi":8},
{"s":"om","v":8,"x":-180,"lo":5,"hi":18.9},{"s":"om","v":8,"x":-176,"lo":9,"hi":18.9},{"s":"om","v":8,"x":-173,"lo":8,"hi":18.9},{"s":"om","v":8,"x":-169.5,"lo":5,"hi":12.1},{"s":"om","v":8,"x":-166,"lo":4,"hi":18.9},{"s":"om","v":8,"x":-150,"lo":1,"hi":18.9},{"s":"om","v":8,"x":-135,"lo":-2,"hi":18.7},{"s":"om","v":8,"x":-127,"lo":-4,"hi":18.5},{"s":"om","v":8,"x":-123,"lo":-4,"hi":13.5},{"s":"om","v":8,"x":-97,"lo":-3,"hi":13.5},{"s":"om","v":8,"x":-90,"lo":-1,"hi":13.5},{"s":"om","v":8,"x":-86,"lo":0,"hi":18.9},{"s":"om","v":8,"x":-70,"lo":1,"hi":18.9},{"s":"om","v":8,"x":-50,"lo":3,"hi":18.9},{"s":"om","v":8,"x":-35,"lo":1,"hi":18.9},{"s":"om","v":8,"x":-25,"lo":0,"hi":18.9},{"s":"om","v":8,"x":-15,"lo":2,"hi":18.9},{"s":"om","v":8,"x":12,"lo":0,"hi":18.9},{"s":"om","v":8,"x":18,"lo":0,"hi":13.5},{"s":"om","v":8,"x":29,"lo":1,"hi":18.9},{"s":"om","v":8,"x":41,"lo":-1,"hi":18.9},{"s":"om","v":8,"x":45,"lo":-2,"hi":13.5},{"s":"om","v":8,"x":55,"lo":-3,"hi":13.5},{"s":"om","v":8,"x":70,"lo":-6,"hi":13.5},{"s":"om","v":8,"x":77,"lo":-9,"hi":13.5},{"s":"om","v":8,"x":85,"lo":-12,"hi":16.5},{"s":"om","v":8,"x":90,"lo":-13,"hi":18.5},{"s":"om","v":8,"x":104,"lo":-14,"hi":18.5},{"s":"om","v":8,"x":107,"lo":-4,"hi":14},{"s":"om","v":8,"x":110,"lo":8,"hi":8},
{"s":"g6","v":5,"x":121,"lo":5,"hi":5},{"s":"g6","v":5,"x":125,"lo":-10,"hi":7},{"s":"g6","v":5,"x":133,"lo":-16,"hi":6},{"s":"g6","v":5,"x":141,"lo":-13,"hi":3},{"s":"g6","v":5,"x":145,"lo":-2,"hi":-2},
{"s":"y6","v":7,"x":122,"lo":4,"hi":4},{"s":"y6","v":7,"x":126,"lo":-7,"hi":5},{"s":"y6","v":7,"x":133,"lo":-11,"hi":4},{"s":"y6","v":7,"x":140,"lo":-8,"hi":0},{"s":"y6","v":7,"x":143,"lo":-3,"hi":-3},
{"s":"o6","v":8,"x":126,"lo":3,"hi":3},{"s":"o6","v":8,"x":131,"lo":-4,"hi":3},{"s":"o6","v":8,"x":136,"lo":-3,"hi":0},
{"s":"g7","v":5,"x":141,"lo":15.5,"hi":15.5},{"s":"g7","v":5,"x":146,"lo":15,"hi":20},{"s":"g7","v":5,"x":165,"lo":15,"hi":20},{"s":"g7","v":5,"x":168,"lo":8,"hi":20},{"s":"g7","v":5,"x":172,"lo":3,"hi":20},{"s":"g7","v":5,"x":176,"lo":1,"hi":20},{"s":"g7","v":5,"x":180,"lo":0,"hi":21},
{"s":"y7","v":7,"x":147,"lo":17,"hi":19},{"s":"y7","v":7,"x":165,"lo":17,"hi":19},{"s":"y7","v":7,"x":168,"lo":10,"hi":19},{"s":"y7","v":7,"x":172,"lo":5,"hi":19},{"s":"y7","v":7,"x":176,"lo":3,"hi":19},{"s":"y7","v":7,"x":180,"lo":2,"hi":20},
{"s":"o7","v":8,"x":163,"lo":17,"hi":17},{"s":"o7","v":8,"x":166,"lo":13,"hi":18},{"s":"o7","v":8,"x":172,"lo":7,"hi":18},{"s":"o7","v":8,"x":176,"lo":5,"hi":18},{"s":"o7","v":8,"x":180,"lo":4,"hi":19},
{"s":"pa","v":9,"x":-171,"lo":12,"hi":12},{"s":"pa","v":9,"x":-168,"lo":6,"hi":17},{"s":"pa","v":9,"x":-164,"lo":3,"hi":19},{"s":"pa","v":9,"x":-155,"lo":2,"hi":19},{"s":"pa","v":9,"x":-148,"lo":3,"hi":19},{"s":"pa","v":9,"x":-143,"lo":8,"hi":15},{"s":"pa","v":9,"x":-141,"lo":12,"hi":12},
{"s":"pb","v":9,"x":-137,"lo":9,"hi":9},{"s":"pb","v":9,"x":-134,"lo":5,"hi":13},{"s":"pb","v":9,"x":-125,"lo":2,"hi":14.5},{"s":"pb","v":9,"x":-110,"lo":0,"hi":14},{"s":"pb","v":9,"x":-100,"lo":1,"hi":13},{"s":"pb","v":9,"x":-93,"lo":5,"hi":12},{"s":"pb","v":9,"x":-90,"lo":9,"hi":10},
{"s":"pc","v":9,"x":-83,"lo":11,"hi":11},{"s":"pc","v":9,"x":-80,"lo":8,"hi":15},{"s":"pc","v":9,"x":-70,"lo":3,"hi":19},{"s":"pc","v":9,"x":-55,"lo":2,"hi":19.5},{"s":"pc","v":9,"x":-40,"lo":1,"hi":19},{"s":"pc","v":9,"x":-25,"lo":1,"hi":19},{"s":"pc","v":9,"x":-15,"lo":2,"hi":19},{"s":"pc","v":9,"x":-5,"lo":5,"hi":18},{"s":"pc","v":9,"x":3,"lo":9,"hi":15},{"s":"pc","v":9,"x":6,"lo":12,"hi":12},
{"s":"pd","v":9,"x":14,"lo":9,"hi":9},{"s":"pd","v":9,"x":20,"lo":4,"hi":14},{"s":"pd","v":9,"x":40,"lo":1,"hi":15},{"s":"pd","v":9,"x":60,"lo":0,"hi":15.5},{"s":"pd","v":9,"x":75,"lo":0,"hi":15.5},{"s":"pd","v":9,"x":90,"lo":2,"hi":15},{"s":"pd","v":9,"x":100,"lo":5,"hi":13},{"s":"pd","v":9,"x":103,"lo":9,"hi":10},
{"s":"pe","v":9,"x":167,"lo":15,"hi":15},{"s":"pe","v":9,"x":169,"lo":11,"hi":16},{"s":"pe","v":9,"x":172,"lo":15,"hi":15},
{"s":"pf","v":9,"x":176,"lo":15,"hi":15},{"s":"pf","v":9,"x":178,"lo":11,"hi":16},{"s":"pf","v":9,"x":180,"lo":13,"hi":16},
{"s":"pg","v":9,"x":88,"lo":-5,"hi":-5},{"s":"pg","v":9,"x":95,"lo":-12,"hi":-1},{"s":"pg","v":9,"x":103,"lo":-11,"hi":-2},{"s":"pg","v":9,"x":106,"lo":-5,"hi":-4},
{"s":"ra","v":10,"x":-168,"lo":14,"hi":14},{"s":"ra","v":10,"x":-167,"lo":8,"hi":18},{"s":"ra","v":10,"x":-160,"lo":4,"hi":17.5},{"s":"ra","v":10,"x":-155,"lo":4,"hi":17},{"s":"ra","v":10,"x":-150,"lo":9,"hi":15},{"s":"ra","v":10,"x":-148,"lo":13,"hi":13},
{"s":"rb","v":10,"x":-124,"lo":9,"hi":13},{"s":"rb","v":10,"x":-110,"lo":6,"hi":13},{"s":"rb","v":10,"x":-100,"lo":7,"hi":11},{"s":"rb","v":10,"x":-98,"lo":9,"hi":10},
{"s":"rc","v":10,"x":-70,"lo":12,"hi":17},{"s":"rc","v":10,"x":-60,"lo":8,"hi":17},{"s":"rc","v":10,"x":-50,"lo":8,"hi":15},{"s":"rc","v":10,"x":-38,"lo":14,"hi":15.5},
{"s":"rd","v":10,"x":-30,"lo":8,"hi":12},{"s":"rd","v":10,"x":-22,"lo":7,"hi":13},{"s":"rd","v":10,"x":-15,"lo":7,"hi":13},
{"s":"re","v":10,"x":57,"lo":2,"hi":11},{"s":"re","v":10,"x":65,"lo":2,"hi":13},{"s":"re","v":10,"x":75,"lo":5,"hi":13},
{"s":"rf","v":10,"x":79,"lo":4,"hi":12},{"s":"rf","v":10,"x":90,"lo":3,"hi":12},{"s":"rf","v":10,"x":96,"lo":6,"hi":10}
],
"contour":[
{"c":1,"x":-80,"y":80},{"c":1,"x":-77,"y":78},{"c":1,"x":-72,"y":75.7},{"c":1,"x":-66,"y":74},{"c":1,"x":-58.5,"y":73},{"c":1,"x":-65,"y":69.7},{"c":1,"x":-62,"y":67},{"c":1,"x":-52,"y":65.4},{"c":1,"x":-42.5,"y":62},{"c":1,"x":-32.6,"y":59.3},{"c":1,"x":-24,"y":57.6},{"c":1,"x":-14,"y":60},{"c":1,"x":-10.5,"y":62},{"c":1,"x":-13,"y":66},{"c":1,"x":-10.5,"y":69},{"c":1,"x":-13,"y":75.7},{"c":1,"x":-20,"y":78},{"c":1,"x":-42.5,"y":79.5},
{"c":2,"x":-60,"y":80},{"c":2,"x":-56,"y":77},{"c":2,"x":-53,"y":80},
{"c":3,"x":-12.9,"y":66.2},{"c":3,"x":-10.5,"y":68.8},{"c":3,"x":-7.3,"y":65.4},{"c":3,"x":-9.3,"y":61.9},{"c":3,"x":-13.4,"y":63.6},{"c":3,"x":-12.9,"y":66.2},
{"c":4,"x":-142.5,"y":34},{"c":4,"x":-141.2,"y":36},{"c":4,"x":-133.9,"y":44.1},{"c":4,"x":-126.5,"y":50},{"c":4,"x":-116.7,"y":54.2},{"c":4,"x":-104.4,"y":55.9},{"c":4,"x":-94.6,"y":57.6},{"c":4,"x":-87.2,"y":53.4},{"c":4,"x":-77.4,"y":48.4},{"c":4,"x":-65.2,"y":50},{"c":4,"x":-57.8,"y":45.8},{"c":4,"x":-54.1,"y":41.6},{"c":4,"x":-55.3,"y":34},{"c":4,"x":-61.5,"y":30.7},{"c":4,"x":-62.7,"y":27.3},{"c":4,"x":-56.6,"y":25.6},{"c":4,"x":-53.6,"y":16.4},{"c":4,"x":-46.3,"y":9.7},{"c":4,"x":-37.7,"y":3.8},{"c":4,"x":-39.6,"y":-3},{"c":4,"x":-45,"y":-4.6},{"c":4,"x":-51.2,"y":-6.3},{"c":4,"x":-54.8,"y":-2.1},{"c":4,"x":-58.5,"y":2.6},{"c":4,"x":-62.2,"y":1.2},{"c":4,"x":-69.6,"y":5.5},{"c":4,"x":-76.9,"y":6.3},{"c":4,"x":-80.6,"y":0.4},{"c":4,"x":-83.1,"y":2.9},{"c":4,"x":-87.2,"y":11.3},{"c":4,"x":-89.7,"y":17.2},{"c":4,"x":-89.2,"y":26.5},{"c":4,"x":-92.1,"y":31.5},{"c":4,"x":-88.5,"y":36.6},{"c":4,"x":-82.3,"y":40.8},{"c":4,"x":-78.6,"y":40.8},{"c":4,"x":-77.4,"y":36.6},{"c":4,"x":-72.5,"y":36.6},{"c":4,"x":-71.3,"y":39.1},{"c":4,"x":-76.2,"y":43.3},{"c":4,"x":-79.9,"y":45.8},{"c":4,"x":-83.6,"y":45},{"c":4,"x":-86,"y":40.8},{"c":4,"x":-92.1,"y":32.4},{"c":4,"x":-97,"y":34.9},{"c":4,"x":-98.3,"y":39.1},{"c":4,"x":-102,"y":45},{"c":4,"x":-109.3,"y":47.5},{"c":4,"x":-116.7,"y":46.7},{"c":4,"x":-122.8,"y":43.3},{"c":4,"x":-124.5,"y":36.6},{"c":4,"x":-121.6,"y":28.1},{"c":4,"x":-120.4,"y":19.7},{"c":4,"x":-126.5,"y":16.4},
{"c":5,"x":-180,"y":-0.4},{"c":5,"x":-175,"y":0.4},{"c":5,"x":-169,"y":-1.3},{"c":5,"x":-162.8,"y":-3.8},{"c":5,"x":-160.9,"y":0.4},{"c":5,"x":-157.4,"y":3.8},{"c":5,"x":-155,"y":1.2},{"c":5,"x":-151.8,"y":-3.8},{"c":5,"x":-145.6,"y":-3.5},{"c":5,"x":-142,"y":3.8},{"c":5,"x":-143.2,"y":10.5},{"c":5,"x":-140.7,"y":18},{"c":5,"x":-143.2,"y":22.3},{"c":5,"x":-144.9,"y":27.3},{"c":5,"x":-141.2,"y":29.8},{"c":5,"x":-131.4,"y":32.4},{"c":5,"x":-136.3,"y":35.7},{"c":5,"x":-142.5,"y":34},
{"c":6,"x":-180,"y":-13.9},{"c":6,"x":-175,"y":-13.6},{"c":6,"x":-171.4,"y":-17},{"c":6,"x":-165.3,"y":-22},{"c":6,"x":-158,"y":-22.8},{"c":6,"x":-152.5,"y":-24.3},{"c":6,"x":-149.3,"y":-19},{"c":6,"x":-147,"y":-14},{"c":6,"x":-142,"y":-11.4},{"c":6,"x":-137,"y":-5.5},{"c":6,"x":-133.4,"y":-0.4},{"c":6,"x":-128.5,"y":-2.5},{"c":6,"x":-124.8,"y":5.5},{"c":6,"x":-122.3,"y":9.7},{"c":6,"x":-118.7,"y":8.8},{"c":6,"x":-116.7,"y":4.6},{"c":6,"x":-113,"y":2.9},{"c":6,"x":-110,"y":3.8},{"c":6,"x":-106.4,"y":7.6},{"c":6,"x":-102,"y":6.3},{"c":6,"x":-97.8,"y":2.1},{"c":6,"x":-92.9,"y":-2.1},{"c":6,"x":-97.8,"y":-5.5},{"c":6,"x":-108.8,"y":-6.3},{"c":6,"x":-113.7,"y":-8},{"c":6,"x":-118,"y":-7},
{"c":7,"x":-128.5,"y":-7.2},{"c":7,"x":-127.2,"y":-14.7},{"c":7,"x":-121,"y":-22.3},{"c":7,"x":-116.7,"y":-30.2},{"c":7,"x":-106.9,"y":-34.4},{"c":7,"x":-98.3,"y":-39.5},{"c":7,"x":-92.1,"y":-42},{"c":7,"x":-82.3,"y":-39.5},{"c":7,"x":-75,"y":-32.8},{"c":7,"x":-67.6,"y":-29.4},{"c":7,"x":-70,"y":-28.6},{"c":7,"x":-77.4,"y":-29.9},{"c":7,"x":-82.3,"y":-32.8},{"c":7,"x":-87.2,"y":-34},{"c":7,"x":-94.6,"y":-34.4},{"c":7,"x":-94.6,"y":-23.5},{"c":7,"x":-88.5,"y":-18.5},{"c":7,"x":-84.3,"y":-12.2},{"c":7,"x":-79.4,"y":-10.5},{"c":7,"x":-82,"y":-8},{"c":7,"x":-86,"y":-7.6},{"c":7,"x":-90,"y":-7},{"c":7,"x":-93.5,"y":-5},{"c":7,"x":-92.9,"y":-2.1},
{"c":8,"x":-130,"y":-9},{"c":8,"x":-127,"y":-4.5},{"c":8,"x":-122,"y":-3},{"c":8,"x":-116,"y":-6},{"c":8,"x":-115,"y":-11},{"c":8,"x":-119,"y":-15},{"c":8,"x":-125,"y":-15},{"c":8,"x":-130,"y":-9},
{"c":9,"x":-126,"y":-9},{"c":9,"x":-124,"y":-6},{"c":9,"x":-120,"y":-6},{"c":9,"x":-118,"y":-9},{"c":9,"x":-120,"y":-12},{"c":9,"x":-124,"y":-12.5},{"c":9,"x":-126,"y":-9},
{"c":10,"x":-124,"y":-9},{"c":10,"x":-122,"y":-8},{"c":10,"x":-120.5,"y":-9.5},{"c":10,"x":-122,"y":-11},{"c":10,"x":-124,"y":-9},
{"c":11,"x":-115,"y":2},{"c":11,"x":-112,"y":4},{"c":11,"x":-109,"y":2},{"c":11,"x":-110,"y":0},{"c":11,"x":-113,"y":0},{"c":11,"x":-115,"y":2},
{"c":12,"x":-104,"y":-9},{"c":12,"x":-102,"y":-7},{"c":12,"x":-100,"y":-8},{"c":12,"x":-99,"y":-13},{"c":12,"x":-100.5,"y":-15},{"c":12,"x":-103,"y":-12},{"c":12,"x":-104,"y":-9},
{"c":13,"x":-108,"y":10},{"c":13,"x":-106,"y":15},{"c":13,"x":-102,"y":17},{"c":13,"x":-100,"y":15},{"c":13,"x":-102,"y":10},{"c":13,"x":-106,"y":8},{"c":13,"x":-108,"y":10},
{"c":14,"x":-82.5,"y":-5},{"c":14,"x":-79.5,"y":-2},{"c":14,"x":-76.5,"y":-5},{"c":14,"x":-79.5,"y":-7.5},{"c":14,"x":-82.5,"y":-5},
{"c":15,"x":-74,"y":-4},{"c":15,"x":-72,"y":-1.5},{"c":15,"x":-70,"y":-4},{"c":15,"x":-69,"y":-8},{"c":15,"x":-65,"y":-10},{"c":15,"x":-68,"y":-12},{"c":15,"x":-71,"y":-9},{"c":15,"x":-74,"y":-4},
{"c":16,"x":-62,"y":-13},{"c":16,"x":-52.5,"y":-15.5},{"c":16,"x":-46,"y":-13.5},{"c":16,"x":-41,"y":-12},{"c":16,"x":-43,"y":-15},{"c":16,"x":-50,"y":-13.5},{"c":16,"x":-60,"y":-12},{"c":16,"x":-65,"y":-10},
{"c":17,"x":-52,"y":-7.5},{"c":17,"x":-48,"y":-6.5},{"c":17,"x":-43,"y":-7.5},{"c":17,"x":-48,"y":-8.5},{"c":17,"x":-52,"y":-7.5},
{"c":18,"x":-59.7,"y":-13},{"c":18,"x":-49.9,"y":-14.8},{"c":18,"x":-49.4,"y":-18.2},{"c":18,"x":-56,"y":-26},{"c":18,"x":-53.6,"y":-31.2},{"c":18,"x":-47.4,"y":-38},{"c":18,"x":-56,"y":-45},{"c":18,"x":-59.7,"y":-49.2},{"c":18,"x":-58.5,"y":-57.8},{"c":18,"x":-64.7,"y":-61.3},{"c":18,"x":-69.6,"y":-57.8},{"c":18,"x":-75.8,"y":-53.5},{"c":18,"x":-78.2,"y":-54.7},{"c":18,"x":-84.4,"y":-57.5},{"c":18,"x":-84.9,"y":-61},{"c":18,"x":-74.5,"y":-61},{"c":18,"x":-67.1,"y":-59.6},
{"c":19,"x":-51.1,"y":-51},{"c":19,"x":-48.7,"y":-45.8},{"c":19,"x":-42.5,"y":-42.7},{"c":19,"x":-36.3,"y":-43.2},{"c":19,"x":-34.4,"y":-49.2},{"c":19,"x":-37.6,"y":-55.3},{"c":19,"x":-45,"y":-56.1},{"c":19,"x":-51.1,"y":-52.7},{"c":19,"x":-51.1,"y":-51},
{"c":20,"x":-67,"y":-65.6},{"c":20,"x":-62,"y":-64.7},{"c":20,"x":-56,"y":-70.7},{"c":20,"x":-54.8,"y":-74.2},{"c":20,"x":-64.7,"y":-73.3},{"c":20,"x":-70.8,"y":-69.9},{"c":20,"x":-67,"y":-65.6},
{"c":21,"x":-64.7,"y":-61.3},{"c":21,"x":-57.3,"y":-68.2},{"c":21,"x":-49.9,"y":-70.7},{"c":21,"x":-47.4,"y":-65.6},{"c":21,"x":-36.3,"y":-62.1},{"c":21,"x":-30.2,"y":-65.6},{"c":21,"x":-22.8,"y":-61.3},{"c":21,"x":-30,"y":-60.5},{"c":21,"x":-20.3,"y":-57.8},{"c":21,"x":-15.4,"y":-54.4},{"c":21,"x":-12.9,"y":-47.5},{"c":21,"x":-16.6,"y":-38},{"c":21,"x":-10.5,"y":-28.6},{"c":21,"x":0.6,"y":-22.5},{"c":21,"x":6.8,"y":-18.2},{"c":21,"x":12.2,"y":-13.9},{"c":21,"x":14.7,"y":-8.9},{"c":21,"x":22,"y":-2.1},{"c":21,"x":31.8,"y":2.9},{"c":21,"x":39.2,"y":-0.4},{"c":21,"x":42.9,"y":0.4},{"c":21,"x":40.4,"y":5.5},{"c":21,"x":46.6,"y":9.7},{"c":21,"x":52.7,"y":14.7},{"c":21,"x":55.2,"y":17.2},{"c":21,"x":58.8,"y":16.4},{"c":21,"x":67.4,"y":16.4},{"c":21,"x":73.6,"y":9.7},{"c":21,"x":77.2,"y":1.2},{"c":21,"x":85.8,"y":0.4},{"c":21,"x":90.7,"y":-3},{"c":21,"x":95.6,"y":-2.1},{"c":21,"x":96.9,"y":-3.8},{"c":21,"x":100.6,"y":-1.3},{"c":21,"x":104.2,"y":-8},{"c":21,"x":116.5,"y":-7.2},{"c":21,"x":120.2,"y":0.4},{"c":21,"x":126.3,"y":-3},{"c":21,"x":141,"y":-8.9},{"c":21,"x":153.3,"y":-13.9},{"c":21,"x":157,"y":-19},{"c":21,"x":155.8,"y":-24},{"c":21,"x":157,"y":-27},{"c":21,"x":154.5,"y":-31},{"c":21,"x":158,"y":-33},{"c":21,"x":161,"y":-25},{"c":21,"x":174.5,"y":-21.7},{"c":21,"x":175.6,"y":-28.6},{"c":21,"x":179,"y":-33},
{"c":22,"x":83.4,"y":26.5},{"c":22,"x":77.2,"y":21.4},{"c":22,"x":77.2,"y":14.7},{"c":22,"x":79.7,"y":8},{"c":22,"x":88.3,"y":2.9},{"c":22,"x":94.4,"y":4.6},{"c":22,"x":100.5,"y":9.7},{"c":22,"x":104.2,"y":13.4},{"c":22,"x":111.6,"y":12.2},{"c":22,"x":119,"y":9.7},{"c":22,"x":126.3,"y":5.5},{"c":22,"x":132.5,"y":-1.3},{"c":22,"x":137.4,"y":-4.6},{"c":22,"x":146,"y":-1.3},{"c":22,"x":153.3,"y":-5.5},{"c":22,"x":165.6,"y":-9.7},{"c":22,"x":173,"y":-11.4},{"c":22,"x":174.2,"y":-6.3},{"c":22,"x":179,"y":-3},
{"c":23,"x":83.4,"y":26.5},{"c":23,"x":78.3,"y":31},{"c":23,"x":70.9,"y":37},{"c":23,"x":64.7,"y":37.8},{"c":23,"x":58.6,"y":37.8},{"c":23,"x":54.9,"y":41.3},{"c":23,"x":46.2,"y":43},{"c":23,"x":46.2,"y":45.6},{"c":23,"x":40,"y":45.6},{"c":23,"x":35.2,"y":42},{"c":23,"x":26.5,"y":37.8},{"c":23,"x":19.1,"y":37},{"c":23,"x":15.4,"y":33.5},{"c":23,"x":13,"y":32.7},{"c":23,"x":15.4,"y":28.4},{"c":23,"x":15.4,"y":24.9},{"c":23,"x":11.7,"y":20.6},{"c":23,"x":4.4,"y":23.2},{"c":23,"x":-0.6,"y":23.2},{"c":23,"x":1.9,"y":25},{"c":23,"x":-5.5,"y":21.5},{"c":23,"x":-10.5,"y":23},{"c":23,"x":-13,"y":19.8},{"c":23,"x":-16.6,"y":19},{"c":23,"x":-15.4,"y":14.6},{"c":23,"x":-21.5,"y":12},{"c":23,"x":-15.4,"y":10.3},{"c":23,"x":-8,"y":9.4},{"c":23,"x":-13.1,"y":7.1},{"c":23,"x":-10.7,"y":5.5},{"c":23,"x":-9.4,"y":2.9},{"c":23,"x":-13.1,"y":-2.1},{"c":23,"x":-19.3,"y":-8},{"c":23,"x":-23,"y":-11.9},
{"c":24,"x":-20.5,"y":2.1},{"c":24,"x":-25.4,"y":1.2},{"c":24,"x":-26.6,"y":-3},{"c":24,"x":-32.8,"y":-5.5},{"c":24,"x":-35.2,"y":1.2},{"c":24,"x":-30.3,"y":-0.4},{"c":24,"x":-28,"y":5},{"c":24,"x":-20.5,"y":5},{"c":24,"x":-20.5,"y":2.1},
{"c":25,"x":-18,"y":19.8},{"c":25,"x":-14.4,"y":16.4},{"c":25,"x":-23,"y":12.2},{"c":25,"x":-15.6,"y":13.9},{"c":25,"x":-9.4,"y":11.3},{"c":25,"x":-7,"y":17},{"c":25,"x":-3,"y":19},
{"c":26,"x":74.6,"y":-12.2},{"c":26,"x":79.5,"y":-18.2},{"c":26,"x":88.1,"y":-25.1},{"c":26,"x":95.5,"y":-27.7},{"c":26,"x":102.9,"y":-28.6},{"c":26,"x":107.9,"y":-36.3},{"c":26,"x":110.3,"y":-38.9},{"c":26,"x":120.2,"y":-32},{"c":26,"x":128.8,"y":-37.2},{"c":26,"x":117.7,"y":-43.2},{"c":26,"x":110.3,"y":-44.9},{"c":26,"x":102.9,"y":-51},{"c":26,"x":98,"y":-56.1},{"c":26,"x":102.9,"y":-58.7},{"c":26,"x":90.6,"y":-59.6},{"c":26,"x":79.5,"y":-65.6},{"c":26,"x":75.8,"y":-69},{"c":26,"x":66,"y":-70.2},{"c":26,"x":56.1,"y":-68.2},{"c":26,"x":43.8,"y":-62.1},{"c":26,"x":35.2,"y":-55.3},{"c":26,"x":31.5,"y":-45.8},{"c":26,"x":36.4,"y":-32},{"c":26,"x":42.6,"y":-26.9},{"c":26,"x":51.2,"y":-24.3},{"c":26,"x":56.1,"y":-19.1},{"c":26,"x":63.5,"y":-16.5},{"c":26,"x":68.4,"y":-16.5},{"c":26,"x":74.6,"y":-12.2},
{"c":27,"x":45,"y":-38.9},{"c":27,"x":50,"y":-32},{"c":27,"x":61,"y":-29.4},{"c":27,"x":73.4,"y":-28.6},{"c":27,"x":85.7,"y":-32.9},{"c":27,"x":95.5,"y":-37.2},{"c":27,"x":97.5,"y":-43.2},{"c":27,"x":90.6,"y":-51},{"c":27,"x":78.3,"y":-56.1},{"c":27,"x":68.4,"y":-56.1},{"c":27,"x":58.6,"y":-54.4},{"c":27,"x":47.5,"y":-49.2},{"c":27,"x":45,"y":-38.9},
{"c":28,"x":48.2,"y":-40.6},{"c":28,"x":52.4,"y":-34.6},{"c":28,"x":63.5,"y":-32},{"c":28,"x":73.4,"y":-32},{"c":28,"x":84.4,"y":-37.2},{"c":28,"x":90.6,"y":-43.2},{"c":28,"x":85.7,"y":-49.2},{"c":28,"x":73.4,"y":-52.7},{"c":28,"x":63.5,"y":-52.7},{"c":28,"x":52.4,"y":-49.2},{"c":28,"x":48.2,"y":-40.6},
{"c":29,"x":146,"y":-42.3},{"c":29,"x":152.2,"y":-39.8},{"c":29,"x":154.7,"y":-37.2},{"c":29,"x":157.1,"y":-43.2},{"c":29,"x":162.1,"y":-45.8},{"c":29,"x":163.3,"y":-40.6},{"c":29,"x":169.5,"y":-36.3},{"c":29,"x":178.1,"y":-42.3},
{"c":30,"x":146,"y":-42.3},{"c":30,"x":147.3,"y":-47.5},{"c":30,"x":154.7,"y":-51},{"c":30,"x":159.6,"y":-49.2},{"c":30,"x":152.2,"y":-44.9},
{"c":31,"x":120.2,"y":-50},{"c":31,"x":125,"y":-51.5},{"c":31,"x":130,"y":-50.5},{"c":31,"x":125,"y":-55.5},{"c":31,"x":130,"y":-56},{"c":31,"x":135,"y":-52},{"c":31,"x":134,"y":-56},{"c":31,"x":129,"y":-60},{"c":31,"x":135,"y":-63},{"c":31,"x":145,"y":-63},{"c":31,"x":146,"y":-58},{"c":31,"x":140,"y":-51.5},{"c":31,"x":144,"y":-52},{"c":31,"x":148,"y":-57},{"c":31,"x":146,"y":-61},
{"c":32,"x":126.3,"y":-68.2},{"c":32,"x":136.2,"y":-67.8},{"c":32,"x":144.8,"y":-66.8},{"c":32,"x":149.7,"y":-70.2},{"c":32,"x":139.9,"y":-71.3},{"c":32,"x":128.8,"y":-73.8},{"c":32,"x":126.8,"y":-69},{"c":32,"x":126.3,"y":-68.2},
{"c":33,"x":115.3,"y":-71.6},{"c":33,"x":122.6,"y":-69},{"c":33,"x":120,"y":-72.5},{"c":33,"x":115.3,"y":-73},{"c":33,"x":115.3,"y":-71.6},
{"c":34,"x":-173.6,"y":-69.9},{"c":34,"x":-165.7,"y":-64.7},{"c":34,"x":-157.1,"y":-62.1},{"c":34,"x":-146,"y":-62.6},{"c":34,"x":-142.3,"y":-62.1},{"c":34,"x":-143.5,"y":-64.4},{"c":34,"x":-150.9,"y":-66.4},{"c":34,"x":-158.3,"y":-70.7},{"c":34,"x":-166.9,"y":-72.5},{"c":34,"x":-173.6,"y":-69.9},
{"c":35,"x":-160.5,"y":-40.6},{"c":35,"x":-157.8,"y":-38.6},{"c":35,"x":-155,"y":-40.6},{"c":35,"x":-157.8,"y":-42.6},{"c":35,"x":-160.5,"y":-40.6},
{"c":36,"x":-168.2,"y":-47.2},{"c":36,"x":-164.5,"y":-50.6},{"c":36,"x":-171.1,"y":-50.6},{"c":36,"x":-168.2,"y":-47.2},
{"c":37,"x":-177.3,"y":-56.1},{"c":37,"x":-171.9,"y":-53.5},{"c":37,"x":-171.1,"y":-55.3},{"c":37,"x":-176.8,"y":-57},{"c":37,"x":-177.3,"y":-56.1},
{"c":38,"x":-174.3,"y":-34.6},{"c":38,"x":-168.2,"y":-37.2},{"c":38,"x":-173.1,"y":-43.2},{"c":38,"x":-179.3,"y":-39.8},{"c":38,"x":-174.3,"y":-34.6},
{"c":39,"x":-180,"y":-21.7},{"c":39,"x":-176.8,"y":-26.9},{"c":39,"x":-179.3,"y":-32},{"c":39,"x":-180,"y":-35.5},
{"c":40,"x":-91,"y":-70.2},{"c":40,"x":-88.6,"y":-69},{"c":40,"x":-86.2,"y":-70.2},{"c":40,"x":-88.6,"y":-71.4},{"c":40,"x":-91,"y":-70.2},
{"c":41,"x":-81.9,"y":-71.3},{"c":41,"x":-73.3,"y":-68.5},{"c":41,"x":-72.1,"y":-72.5},{"c":41,"x":-79.5,"y":-73.7},{"c":41,"x":-81.9,"y":-71.3},
{"c":42,"x":-83,"y":-52.2},{"c":42,"x":-80.7,"y":-50.7},{"c":42,"x":-78.4,"y":-52.2},{"c":42,"x":-80.7,"y":-53.7},{"c":42,"x":-83,"y":-52.2},
{"c":43,"x":-69.5,"y":-50.5},{"c":43,"x":-66.5,"y":-48.5},{"c":43,"x":-63.5,"y":-50.5},{"c":43,"x":-66.5,"y":-52.5},{"c":43,"x":-69.5,"y":-50.5},
{"c":44,"x":-46,"y":-34},{"c":44,"x":-38,"y":-34},{"c":44,"x":-38,"y":-34.8},{"c":44,"x":-46,"y":-34.8},{"c":44,"x":-46,"y":-34},
{"c":45,"x":-18.5,"y":-35},{"c":45,"x":-16,"y":-33},{"c":45,"x":-13.5,"y":-35},{"c":45,"x":-16,"y":-37},{"c":45,"x":-18.5,"y":-35},
{"c":46,"x":-1,"y":-38},{"c":46,"x":1.9,"y":-36},{"c":46,"x":5,"y":-36.5},{"c":46,"x":3,"y":-40},{"c":46,"x":-1,"y":-38},
{"c":47,"x":58,"y":-58},{"c":47,"x":61,"y":-56.5},{"c":47,"x":65,"y":-59},{"c":47,"x":60,"y":-59.5},{"c":47,"x":58,"y":-58},
{"c":48,"x":33,"y":-67},{"c":48,"x":36,"y":-65.3},{"c":48,"x":40,"y":-66},{"c":48,"x":39,"y":-68.5},{"c":48,"x":33,"y":-67},
{"c":49,"x":136.2,"y":19.8},{"c":49,"x":139.9,"y":29.2},{"c":49,"x":149.7,"y":32.2},{"c":49,"x":159.6,"y":30},{"c":49,"x":162.1,"y":21.5},{"c":49,"x":159.6,"y":14.6},{"c":49,"x":148.5,"y":11.5},{"c":49,"x":139.9,"y":12.9},{"c":49,"x":136.2,"y":19.8},
{"c":50,"x":141.1,"y":23.2},{"c":50,"x":144.8,"y":27.5},{"c":50,"x":151,"y":26.6},{"c":50,"x":151.7,"y":21.5},{"c":50,"x":144.8,"y":18},{"c":50,"x":141.1,"y":23.2},
{"c":51,"x":145.3,"y":25},{"c":51,"x":148.5,"y":25.8},{"c":51,"x":149.8,"y":24},{"c":51,"x":146,"y":22.3},{"c":51,"x":145.3,"y":25},
{"c":52,"x":-119.1,"y":40.8},{"c":52,"x":-113,"y":44.1},{"c":52,"x":-105.6,"y":43.3},{"c":52,"x":-102.5,"y":39.1},{"c":52,"x":-106.9,"y":35.7},{"c":52,"x":-113,"y":35.4},{"c":52,"x":-117.9,"y":37.4},{"c":52,"x":-119.1,"y":40.8},
{"c":53,"x":54,"y":18},{"c":53,"x":56,"y":16},{"c":53,"x":57.3,"y":14},{"c":53,"x":54,"y":14.5},{"c":53,"x":52,"y":16},{"c":53,"x":54,"y":18},
{"c":54,"x":-47,"y":-22.5},{"c":54,"x":-44,"y":-21},{"c":54,"x":-41.5,"y":-23.5},{"c":54,"x":-44,"y":-25.5},{"c":54,"x":-47,"y":-22.5},
{"c":55,"x":-127,"y":-1},{"c":55,"x":-123,"y":0},{"c":55,"x":-118,"y":-2},{"c":55,"x":-122,"y":-3},{"c":55,"x":-127,"y":-1}
],
"dark":[
{"s":"o","x":-141,"lo":18.5,"hi":18.5},{"s":"o","x":-138,"lo":14.5,"hi":23},{"s":"o","x":-134,"lo":12.5,"hi":24.5},{"s":"o","x":-130,"lo":13,"hi":24},{"s":"o","x":-127,"lo":15,"hi":21},{"s":"o","x":-125.5,"lo":18,"hi":18},
{"s":"a","x":-107,"lo":10,"hi":10},{"s":"a","x":-106,"lo":9,"hi":13},{"s":"a","x":-103,"lo":10,"hi":15},{"s":"a","x":-101,"lo":12,"hi":15.5},{"s":"a","x":-100.5,"lo":14,"hi":14}
],
"dots":[
{"x":-131.7,"y":76.2,"r":1},{"x":-64,"y":48.2,"r":1},{"x":-57.8,"y":28,"r":2},{"x":-82,"y":33.5,"r":2},{"x":-143.5,"y":26.6,"r":1},{"x":-8,"y":70,"r":1},{"x":28.5,"y":49.9,"r":2},{"x":21.6,"y":31.8,"r":2},{"x":18,"y":23.7,"r":1},{"x":0,"y":24.6,"r":1},{"x":57.3,"y":23.6,"r":2},{"x":64.2,"y":24.1,"r":1},{"x":105.9,"y":41.8,"r":2},{"x":115.7,"y":40.4,"r":1},{"x":149.7,"y":32.7,"r":2},{"x":149.7,"y":18.4,"r":1},{"x":161.6,"y":12.4,"r":2},{"x":68,"y":7.7,"r":2},{"x":153.5,"y":-1.8,"r":1},{"x":-153.4,"y":-18.2,"r":2},{"x":-149.7,"y":-28,"r":1},{"x":-100.4,"y":-28,"r":1},{"x":-107.8,"y":-57.8,"r":1},{"x":-123.8,"y":-66,"r":1},{"x":-42.5,"y":-74.2,"r":1},{"x":-27.7,"y":-53.5,"r":1},{"x":-21.6,"y":-44,"r":2},{"x":-25,"y":-44,"r":1},{"x":-3.8,"y":-40,"r":2},{"x":0.6,"y":-22.5,"r":2},{"x":-0.1,"y":-46.3,"r":1},{"x":-4.3,"y":-50,"r":2},{"x":4.3,"y":-49.2,"r":2},{"x":12.2,"y":-54.1,"r":1},{"x":-3.6,"y":-63.9,"r":1},{"x":-15,"y":-70,"r":1},{"x":-59.7,"y":-18.2,"r":1},{"x":-66,"y":-16,"r":1},{"x":-33.4,"y":-26.3,"r":1},{"x":-38.8,"y":-20,"r":1},{"x":19,"y":-46,"r":1},{"x":29.7,"y":-48,"r":2},{"x":19.9,"y":-69.9,"r":1},{"x":82,"y":-72,"r":1},{"x":89.9,"y":-72.1,"r":1},{"x":84.4,"y":-76,"r":1},{"x":92,"y":-78,"r":1},{"x":95,"y":-78,"r":1},{"x":110.3,"y":-42,"r":1},{"x":110.3,"y":-51.8,"r":1},{"x":105.4,"y":-50,"r":1},{"x":146,"y":-51.8,"r":1},{"x":120.2,"y":-66.4,"r":1},{"x":127.6,"y":-66,"r":1},{"x":153.4,"y":-69.9,"r":1},{"x":179.3,"y":-52.7,"r":1},{"x":16.2,"y":-22.2,"r":1},{"x":20.4,"y":-16.2,"r":1},{"x":142,"y":-30.5,"r":2},{"x":148,"y":-30.5,"r":1}
],
"cb":[
{"lo":0,"hi":0.5},{"lo":0.5,"hi":1},{"lo":1,"hi":1.5},{"lo":1.5,"hi":2},{"lo":2,"hi":2.5},{"lo":2.5,"hi":3},{"lo":3,"hi":3.5},{"lo":3.5,"hi":4},{"lo":4,"hi":4.5},{"lo":4.5,"hi":5},{"lo":5,"hi":5.5},{"lo":5.5,"hi":6},{"lo":6,"hi":6.5},{"lo":6.5,"hi":7},{"lo":7,"hi":7.5},{"lo":7.5,"hi":8},{"lo":8,"hi":8.5},{"lo":8.5,"hi":9},{"lo":9,"hi":9.5},{"lo":9.5,"hi":10},{"lo":10,"hi":10.5},{"lo":10.5,"hi":11},{"lo":11,"hi":11.5},{"lo":11.5,"hi":12},{"lo":12,"hi":12.5},{"lo":12.5,"hi":13},{"lo":13,"hi":13.5},{"lo":13.5,"hi":14},{"lo":14,"hi":14.5},{"lo":14.5,"hi":15},{"lo":15,"hi":15.5},{"lo":15.5,"hi":16},{"lo":16,"hi":16.5},{"lo":16.5,"hi":17},{"lo":17,"hi":17.5},{"lo":17.5,"hi":18},{"lo":18,"hi":18.5},{"lo":18.5,"hi":19},{"lo":19,"hi":19.5},{"lo":19.5,"hi":20},{"lo":20,"hi":20.5},{"lo":20.5,"hi":21},{"lo":21,"hi":21.5},{"lo":21.5,"hi":22},{"lo":22,"hi":22.5},{"lo":22.5,"hi":23},{"lo":23,"hi":23.5},{"lo":23.5,"hi":24},{"lo":24,"hi":24.5},{"lo":24.5,"hi":25}
]
},
"columns":2,"align":"none","bounds":"flush","spacing":{"row":96,"column":28},
"concat":[
{"width":487.5,"height":310,"view":{"fill":"#f5f9fb","stroke":null},"layer":[
{"data":{"name":"f1"},"mark":{"type":"area","clip":true,"interpolate":"linear"},"encoding":{"x":{"field":"x","type":"quantitative","scale":{"domain":[-180,180],"nice":false},"title":"Longitude, deg","axis":{"values":[-180,-120,-60,0,60,120,180],"titlePadding":5,"labelPadding":10,"labelExpr":"''+datum.value"}},"y":{"field":"lo","type":"quantitative","scale":{"domain":[-80,80],"nice":false},"title":"Latitude, deg","axis":{"values":[-80,-60,-40,-20,0,20,40,60,80],"titlePadding":11,"labelExpr":"''+datum.value"}},"y2":{"field":"hi"},"detail":{"field":"s"},"color":{"field":"v","type":"ordinal","legend":null,"scale":{"domain":[1,2,3,4,5,6,7,8,9,10],"range":["#0d50a0","#0a7dbb","#00a6c6","#00a99d","#00a651","#8dc63f","#fdb913","#f47b20","#ee4f9c","#a8479b"]}}}},
{"data":{"name":"dark"},"mark":{"type":"area","color":"#1c2e35","clip":true},"encoding":{"x":{"field":"x","type":"quantitative"},"y":{"field":"lo","type":"quantitative"},"y2":{"field":"hi"},"detail":{"field":"s"}}},
{"data":{"name":"contour"},"transform":[{"window":[{"op":"row_number","as":"i"}]}],"mark":{"type":"line","color":"#1c2e35","strokeWidth":2.6,"clip":true,"strokeJoin":"round","interpolate":"cardinal","tension":0.4},"encoding":{"x":{"field":"x","type":"quantitative"},"y":{"field":"y","type":"quantitative"},"detail":{"field":"c"},"order":{"field":"i","type":"quantitative"}}},
{"data":{"name":"dots"},"mark":{"type":"point","filled":true,"color":"#1c2e35","opacity":1,"clip":true},"encoding":{"x":{"field":"x","type":"quantitative"},"y":{"field":"y","type":"quantitative"},"size":{"field":"r","type":"quantitative","legend":null,"scale":{"domain":[1,2],"range":[10,30]}}}},
{"data":{"values":[{"x":-42.5,"y":85.7,"t":"90 < L"},{"x":7,"y":85.7,"t":"< 180"}]},"mark":{"type":"text","align":"left","baseline":"alphabetic","fontWeight":300,"color":"#36464d","fontSize":19.5},"encoding":{"x":{"field":"x","type":"quantitative"},"y":{"field":"y","type":"quantitative"},"text":{"field":"t"}}},
{"data":{"values":[{"x":-0.4,"y":83.6,"t":"S"}]},"mark":{"type":"text","align":"left","baseline":"alphabetic","fontWeight":300,"color":"#36464d","fontSize":12},"encoding":{"x":{"field":"x","type":"quantitative"},"y":{"field":"y","type":"quantitative"},"text":{"field":"t"}}}
]},
{"width":44,"height":310,"layer":[
{"data":{"name":"cb"},"mark":{"type":"rect"},"encoding":{"y":{"field":"lo","type":"quantitative","scale":{"domain":[0,25],"nice":false},"title":null,"axis":{"orient":"right","values":[0,5,10,15,20,25],"tickSize":-3,"domainWidth":1.5}},"y2":{"field":"hi"},"color":{"field":"lo","type":"quantitative","legend":null,"scale":{"domain":[0,1,1.7,2.2,2.6,3,3.7,4.2,5,5.2,5.5,6.8,7,7.4,8,9,10,11,12,13,14,17,18,20,21,23,25],"range":["#2e2a80","#2f2f8c","#2d3a90","#1e4f98","#0f74b8","#00a0dd","#00b0ea","#00a6cf","#0ca5b0","#0ea890","#0a9f40","#0ca038","#8db32a","#f3e500","#f3d000","#eea814","#e87e22","#e64f28","#e2231f","#e3174d","#e30e6e","#e5007e","#e32085","#c8268a","#b02a8c","#a8348e","#8f1a80"]}}}},
{"data":{"values":[{"x":-0.03,"y":25.65,"t":"J kg"}]},"mark":{"type":"text","align":"left","baseline":"alphabetic","fontWeight":300,"color":"#36464d","fontSize":18},"encoding":{"x":{"field":"x","type":"quantitative","scale":{"domain":[0,1],"nice":false},"axis":null},"y":{"field":"y","type":"quantitative"},"text":{"field":"t"}}},
{"data":{"values":[{"x":0.81,"y":26.3,"t":"-1"}]},"mark":{"type":"text","align":"left","baseline":"alphabetic","fontWeight":300,"color":"#36464d","fontSize":11},"encoding":{"x":{"field":"x","type":"quantitative","axis":null},"y":{"field":"y","type":"quantitative"},"text":{"field":"t"}}},
{"data":{"values":[{"a":0}]},"mark":{"type":"rect","fill":null,"stroke":"#2c3e46","strokeWidth":1.5},"encoding":{"x":{"datum":0,"axis":null},"x2":{"datum":1},"y":{"datum":0},"y2":{"datum":25}}}
]},
{"width":489,"height":317,"view":{"fill":"#f5f9fb","stroke":null},"resolve":{"axis":{"x":"independent","y":"independent"}},"layer":[
{"data":{"name":"f2"},"mark":{"type":"area","clip":true,"interpolate":"linear"},"encoding":{"x":{"field":"x","type":"quantitative","scale":{"domain":[-180,180],"nice":false},"title":"Longitude, deg","axis":{"values":[-180,-120,-60,0,60,120,180],"titlePadding":5,"labelPadding":10,"labelExpr":"''+datum.value"}},"y":{"field":"lo","type":"quantitative","scale":{"domain":[-80,80],"nice":false},"title":"Latitude, deg","axis":{"values":[-80,-60,-40,-20,0,20,40,60,80],"titlePadding":11,"labelExpr":"''+datum.value"}},"y2":{"field":"hi"},"detail":{"field":"s"},"color":{"field":"v","type":"ordinal","legend":null,"scale":{"domain":[1,2,3,4,5,6,7,8,9,10],"range":["#0d50a0","#0a7dbb","#00a6c6","#00a99d","#00a651","#8dc63f","#fdb913","#f47b20","#ee4f9c","#a8479b"]}}}},
{"data":{"name":"dark"},"mark":{"type":"area","color":"#1c2e35","clip":true},"encoding":{"x":{"field":"x","type":"quantitative","axis":{"orient":"top","values":[-180,-120,-60,0,60,120,180],"labels":false,"title":null}},"y":{"field":"lo","type":"quantitative","axis":{"orient":"right","values":[-80,-60,-40,-20,0,20,40,60,80],"labels":false,"title":null}},"y2":{"field":"hi"},"detail":{"field":"s"}}},
{"data":{"name":"contour"},"transform":[{"window":[{"op":"row_number","as":"i"}]}],"mark":{"type":"line","color":"#1c2e35","strokeWidth":2.6,"clip":true,"strokeJoin":"round","interpolate":"cardinal","tension":0.4},"encoding":{"x":{"field":"x","type":"quantitative","axis":null},"y":{"field":"y","type":"quantitative","axis":null},"detail":{"field":"c"},"order":{"field":"i","type":"quantitative"}}},
{"data":{"name":"dots"},"mark":{"type":"point","filled":true,"color":"#1c2e35","opacity":1,"clip":true},"encoding":{"x":{"field":"x","type":"quantitative","axis":null},"y":{"field":"y","type":"quantitative","axis":null},"size":{"field":"r","type":"quantitative","legend":null,"scale":{"domain":[1,2],"range":[10,30]}}}},
{"data":{"values":[{"x":-50,"y":85,"t":"270 < L"},{"x":10,"y":85,"t":"< 360"}]},"mark":{"type":"text","align":"left","baseline":"alphabetic","fontWeight":300,"color":"#36464d","fontSize":19.5},"encoding":{"x":{"field":"x","type":"quantitative","axis":null},"y":{"field":"y","type":"quantitative","axis":null},"text":{"field":"t"}}},
{"data":{"values":[{"x":-2,"y":83,"t":"S"}]},"mark":{"type":"text","align":"left","baseline":"alphabetic","fontWeight":300,"color":"#36464d","fontSize":12},"encoding":{"x":{"field":"x","type":"quantitative","axis":null},"y":{"field":"y","type":"quantitative","axis":null},"text":{"field":"t"}}}
]},
{"width":42.5,"height":317,"layer":[
{"data":{"name":"cb"},"mark":{"type":"rect"},"encoding":{"y":{"field":"lo","type":"quantitative","scale":{"domain":[0,25],"nice":false},"title":null,"axis":{"orient":"right","values":[0,5,10,15,20,25],"tickSize":-3,"domainWidth":1.5}},"y2":{"field":"hi"},"color":{"field":"lo","type":"quantitative","legend":null,"scale":{"domain":[0,1,1.7,2.2,2.6,3,3.7,4.2,5,5.2,5.5,6.8,7,7.4,8,9,10,11,12,13,14,17,18,20,21,23,25],"range":["#2e2a80","#2f2f8c","#2d3a90","#1e4f98","#0f74b8","#00a0dd","#00b0ea","#00a6cf","#0ca5b0","#0ea890","#0a9f40","#0ca038","#8db32a","#f3e500","#f3d000","#eea814","#e87e22","#e64f28","#e2231f","#e3174d","#e30e6e","#e5007e","#e32085","#c8268a","#b02a8c","#a8348e","#8f1a80"]}}}},
{"data":{"values":[{"x":-0.05,"y":25.47,"t":"J kg"}]},"mark":{"type":"text","align":"left","baseline":"alphabetic","fontWeight":300,"color":"#36464d","fontSize":18},"encoding":{"x":{"field":"x","type":"quantitative","scale":{"domain":[0,1],"nice":false},"axis":null},"y":{"field":"y","type":"quantitative"},"text":{"field":"t"}}},
{"data":{"values":[{"x":0.8,"y":26.26,"t":"-1"}]},"mark":{"type":"text","align":"left","baseline":"alphabetic","fontWeight":300,"color":"#36464d","fontSize":11},"encoding":{"x":{"field":"x","type":"quantitative","axis":null},"y":{"field":"y","type":"quantitative"},"text":{"field":"t"}}},
{"data":{"values":[{"a":0}]},"mark":{"type":"rect","fill":null,"stroke":"#2c3e46","strokeWidth":1.5},"encoding":{"x":{"datum":0,"axis":null},"x2":{"datum":1},"y":{"datum":0},"y2":{"datum":25}}}
]}
]}
